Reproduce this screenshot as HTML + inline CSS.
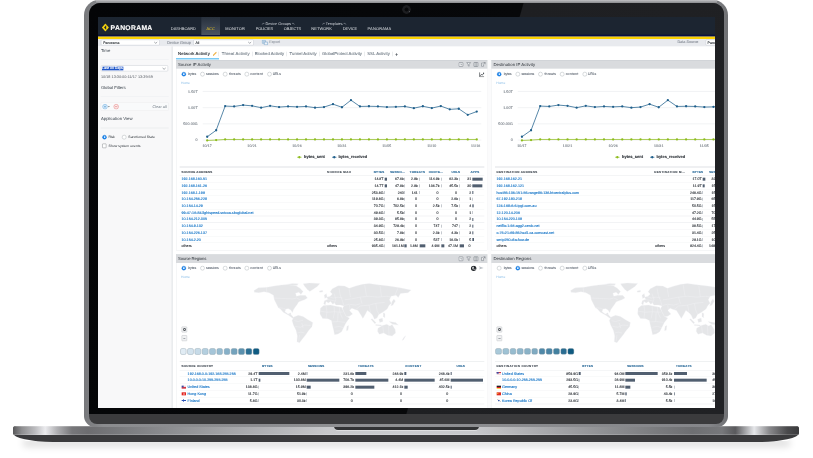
<!DOCTYPE html>
<html lang="en"><head><meta charset="utf-8"><title>Panorama ACC</title>
<style>
html,body{margin:0;padding:0;background:#fff;}
body{width:813px;height:458px;position:relative;overflow:hidden;font-family:"Liberation Sans",sans-serif;}
#stage div,#stage span.t,#stage svg{position:absolute;box-sizing:border-box;}
span.t{white-space:nowrap;display:block;text-rendering:geometricPrecision;-webkit-text-stroke:0.35px currentColor;}
#screen{overflow:hidden;background:#fff;}
.hl{background:#e7e9eb;}
.rad{border-radius:50%;border:1.35px solid #8d949c;background:#fff;}
.radon{border-radius:50%;background:#1a86f0;border:1.2px solid #1269c4;}
.radon i{position:absolute;left:50%;top:50%;width:4.5px;height:4.5px;margin:-2.25px 0 0 -2.25px;border-radius:50%;background:#fff;}
.bar{background:#515f70;}
.sel{background:#fff;border:1.35px solid #b4b9c1;border-radius:3px;}
.sw{border-radius:5.1px;border:1.65px solid #7d919e;}
.zb{border:1.5px solid #a3a7ac;background:#f1f2f3;border-radius:1.8px;}
</style></head><body><div id="stage">
<div style="left:24px;top:436px;width:765px;height:5px;border-radius:3px;box-shadow:0 4.5px 7px 1.5px rgba(0,0,0,0.125);"></div>
<div style="left:13.3px;top:425.8px;width:786px;height:16.4px;border-radius:3px 3px 40px 40px / 3px 3px 9px 9px;background:#3a3a3c;overflow:hidden;"><div style="left:0;top:0;width:786px;height:9.3px;background:linear-gradient(90deg,#58585a 0%,#8e8e90 1.1%,#bcbcbf 2.8%,#ebebee 4.1%,#b0b0b3 5.6%,#77777a 7.5%,#6d6d70 9.5%,#7a7b7e 14%,#a5a6a9 28%,#c6c7ca 40%,#cacbce 50%,#c6c7ca 59%,#a0a1a4 70%,#7a7b7e 82%,#6e6f72 86.5%,#77787b 90.2%,#5a5a5d 91.9%,#e6e7ea 94.3%,#8a8a8d 96.2%,#4a4a4c 98.5%,#3a3a3c 100%);"></div><div style="left:0;top:0;width:786px;height:1px;background:rgba(255,255,255,0.22);"></div><div style="left:0;top:8.3px;width:786px;height:1px;background:rgba(255,255,255,0.18);"></div></div>
<div style="left:333.6px;top:425.6px;width:145.6px;height:4.7px;border-radius:0 0 5px 5px;background:#323335;box-shadow:0 0.8px 0.6px rgba(255,255,255,0.55);"></div>
<div style="left:84.4px;top:-0.4px;width:644px;height:427px;border-radius:15px 15px 11px 11px;background:linear-gradient(90deg,#77787b 0%,#8b8c8f 3%,#8f9093 50%,#85868a 97%,#707174 100%);"></div>
<div style="left:88.7px;top:2.6px;width:635.6px;height:421.9px;border-radius:11.5px 11.5px 8px 8px;overflow:hidden;background:#3b3b3d;"><div style="left:0;top:0;width:635.6px;height:411.8px;background:linear-gradient(105.92deg,#040507 0%,#07080a 57.7%,#1e1f22 57.85%,#202124 100%);"></div></div>
<div style="left:96px;top:-0.4px;width:621px;height:3px;background:linear-gradient(180deg,#c3c3c6 0%,#a3a4a7 50%,#8b8c8f 100%);"></div>
<div style="left:401.5px;top:4.6px;width:9.8px;height:9.8px;border-radius:50%;background:radial-gradient(circle closest-side,#07080a 0,#090a0c 38%,#1d1e21 52%,#1c1d20 88%,#0d0e10 100%);"></div>
<div style="left:409.2px;top:11.3px;width:1.3px;height:1px;border-radius:50%;background:#5d5f63;transform:rotate(-35deg);"></div>
<div id="screen" style="left:98px;top:17px;width:617px;height:391px;">
<div id="ui" style="left:-98px;top:-17px;width:2439px;height:1374px;transform:scale(0.3333333);transform-origin:0 0;filter:saturate(1.001);">

<div style="left:294px;top:50.4px;width:1854px;height:54.3px;background:#1c2531;"></div>
<div style="left:294px;top:104.4px;width:1854px;height:5.7px;background:#0a1140;"></div>
<div style="left:294px;top:109.8px;width:1854px;height:7.5px;background:#fcd200;"></div>
<svg style="left:304.8px;top:69.6px;width:22.2px;height:25.2px;" viewBox="0 0 74 84"><path d="M37 2 L72 42 L37 82 L2 42 Z" fill="#f7d40c"/><path d="M24 42 L45 19 L45 65 Z" fill="#1c2531"/></svg>
<span class="t" style="left:331.8px;top:70.32px;font-size:20.34px;line-height:26.46px;color:#fff;font-weight:700;letter-spacing:0.96px;-webkit-text-stroke:0.39px #fff;">PANORAMA</span>
<div style="left:603.9px;top:50.4px;width:56.1px;height:54.3px;background:linear-gradient(180deg,#27303c 0%,#3a4350 55%,#4a5361 100%);"></div>
<span class="t" style="left:512.4px;top:77.94px;font-size:11.85px;line-height:15.42px;color:#dde1e6;letter-spacing:0.06px;-webkit-text-stroke:0;">DASHBOARD</span>
<span class="t" style="left:619.44px;top:77.94px;font-size:11.85px;line-height:15.42px;color:#f7cf1a;-webkit-text-stroke:0;">ACC</span>
<span class="t" style="left:675.9px;top:77.94px;font-size:11.85px;line-height:15.42px;color:#dde1e6;letter-spacing:0.48px;-webkit-text-stroke:0;">MONITOR</span>
<span class="t" style="left:767.1px;top:77.94px;font-size:11.85px;line-height:15.42px;color:#dde1e6;letter-spacing:-0.36px;-webkit-text-stroke:0;">POLICIES</span>
<span class="t" style="left:851.1px;top:77.94px;font-size:11.85px;line-height:15.42px;color:#dde1e6;letter-spacing:-0.39px;-webkit-text-stroke:0;">OBJECTS</span>
<span class="t" style="left:933.9px;top:77.94px;font-size:11.85px;line-height:15.42px;color:#dde1e6;letter-spacing:0.21px;-webkit-text-stroke:0;">NETWORK</span>
<span class="t" style="left:1028.4px;top:77.94px;font-size:11.85px;line-height:15.42px;color:#dde1e6;letter-spacing:-0.21px;-webkit-text-stroke:0;">DEVICE</span>
<span class="t" style="left:1102.8px;top:77.94px;font-size:11.85px;line-height:15.42px;color:#dde1e6;letter-spacing:0.48px;-webkit-text-stroke:0;">PANORAMA</span>
<span class="t" style="left:796.2px;top:63.93px;font-size:11.61px;line-height:15.09px;color:#d2d6dc;-webkit-text-stroke:0;">Device Groups</span>
<span class="t" style="left:977.4px;top:64.35px;font-size:11.07px;line-height:14.37px;color:#d2d6dc;-webkit-text-stroke:0;">Templates</span>
<svg style="left:774px;top:60px;width:270px;height:24px;" viewBox="0 0 90 8"><g fill="none" stroke="#b9bfc7" stroke-width="0.45"><path d="M4.2 4.6 L4.8 3.4 L6.4 3.4"/><path d="M34 3.4 L35.6 3.4 L36.3 4.6"/><path d="M64.6 4.6 L65.2 3.4 L66.8 3.4"/><path d="M85.6 3.4 L87.2 3.4 L87.9 4.6"/></g></svg>
<div style="left:294px;top:117.3px;width:1854px;height:21.3px;background:#e8eaee;"></div>
<div class="sel" style="left:303px;top:119.1px;width:176.1px;height:16.5px;"></div>
<span class="t" style="left:309.6px;top:122.34px;font-size:10.5px;line-height:13.65px;color:#30353b;">Panorama</span>
<div class="sel" style="left:580.2px;top:119.1px;width:180.6px;height:16.5px;"></div>
<span class="t" style="left:586.2px;top:122.34px;font-size:10.5px;line-height:13.65px;color:#30353b;">All</span>
<span class="t" style="left:500.7px;top:119.91px;font-size:11.79px;line-height:15.3px;color:#8c929b;">Device Group</span>
<svg style="left:460.8px;top:123.9px;width:12.6px;height:7.8px;" viewBox="0 0 42 26"><path d="M5 5 L21 20 L37 5" fill="none" stroke="#5a6068" stroke-width="5.5"/></svg>
<svg style="left:742.8px;top:123.9px;width:12.6px;height:7.8px;" viewBox="0 0 42 26"><path d="M5 5 L21 20 L37 5" fill="none" stroke="#5a6068" stroke-width="5.5"/></svg>
<svg style="left:784.8px;top:118.8px;width:19.8px;height:17.4px;" viewBox="0 0 66 58"><rect x="4" y="6" width="34" height="30" rx="3" fill="#dbe7f2" stroke="#6f9fc8" stroke-width="5"/><rect x="26" y="24" width="34" height="28" rx="3" fill="#eef3f8" stroke="#5d93c2" stroke-width="5"/><path d="M10 16 H30 M10 25 H22" stroke="#7aa6cc" stroke-width="4"/></svg>
<span class="t" style="left:807.6px;top:120.33px;font-size:11.22px;line-height:14.58px;color:#9aa0a9;">Export</span>
<span class="t" style="left:2032.2px;top:120.24px;font-size:11.34px;line-height:14.73px;color:#8c929b;">Data Source</span>
<div class="sel" style="left:2117.1px;top:119.1px;width:162.9px;height:16.5px;"></div>
<span class="t" style="left:2122.8px;top:122.34px;font-size:10.5px;line-height:13.65px;color:#30353b;">Panorama</span>
<div style="left:294px;top:138.6px;width:222.6px;height:1088.4px;background:#f8f8f9;"></div>
<div style="left:513.9px;top:138.6px;width:3.9px;height:1088.4px;background:linear-gradient(90deg,#eceef0,#dfe2e5);"></div>
<span class="t" style="left:302.7px;top:142.8px;font-size:12.9px;line-height:16.77px;color:#333c46;-webkit-text-stroke:0;">Time</span>
<div class="hl" style="left:301.5px;top:176.7px;width:204px;height:1.5px;"></div>
<div class="sel" style="left:302.7px;top:196.2px;width:201.6px;height:18.3px;"></div>
<div style="left:306px;top:199.5px;width:63.6px;height:11.7px;background:#1f56c8;"></div>
<span class="t" style="left:306.9px;top:199.08px;font-size:10.59px;line-height:13.77px;color:#fff;">Last 30 Days</span>
<svg style="left:485.7px;top:201.9px;width:12.6px;height:7.8px;" viewBox="0 0 42 26"><path d="M5 5 L21 20 L37 5" fill="none" stroke="#5a6068" stroke-width="5.5"/></svg>
<span class="t" style="left:302.7px;top:223.35px;font-size:11.46px;line-height:14.91px;color:#565b62;-webkit-text-stroke:0;">10/18 13:30:00-11/17 13:29:59</span>
<span class="t" style="left:302.7px;top:254.4px;font-size:12.9px;line-height:16.77px;color:#333c46;letter-spacing:-0.12px;-webkit-text-stroke:0;">Global Filters</span>
<div class="hl" style="left:301.5px;top:287.7px;width:204px;height:1.5px;"></div>
<div style="left:301.5px;top:307.2px;width:204px;height:24.9px;background:#f9fafb;border:1.2px solid #e6e8eb;border-radius:2.4px;"></div>
<svg style="left:305.7px;top:310.5px;width:54px;height:18px;" viewBox="0 0 180 60"><circle cx="30" cy="30" r="23" fill="#eaf4fd" stroke="#5aa4dc" stroke-width="5"/><path d="M18 30 H42 M30 18 V42" stroke="#3f90d0" stroke-width="5"/><path d="M62 26 L76 26 L69 36 Z" fill="#222"/><circle cx="142" cy="30" r="23" fill="#fdeeee" stroke="#e27b7b" stroke-width="5"/><path d="M130 30 H154" stroke="#d95b5b" stroke-width="5"/></svg>
<span class="t" style="left:457.8px;top:314.31px;font-size:11.37px;line-height:14.79px;color:#6b7680;-webkit-text-stroke:0;">Clear all</span>
<span class="t" style="left:302.7px;top:348px;font-size:12.9px;line-height:16.77px;color:#333c46;letter-spacing:0.03px;-webkit-text-stroke:0;">Application View</span>
<div class="hl" style="left:301.5px;top:383.1px;width:204px;height:1.5px;"></div>
<div class="radon" style="left:307.2px;top:404.7px;width:13.2px;height:13.2px;"><i></i></div>
<span class="t" style="left:325.5px;top:404.94px;font-size:10.5px;line-height:13.65px;color:#2c3238;letter-spacing:-0.54px;-webkit-text-stroke:0;">Risk</span>
<div class="rad" style="left:366.3px;top:404.7px;width:13.2px;height:13.2px;"></div>
<span class="t" style="left:384.9px;top:404.94px;font-size:10.5px;line-height:13.65px;color:#2c3238;letter-spacing:0px;-webkit-text-stroke:0;">Sanctioned State</span>
<div style="left:306.9px;top:431.4px;width:12.6px;height:12.9px;background:#fff;border:1.65px solid #50565c;border-radius:1.8px;"></div>
<span class="t" style="left:325.5px;top:431.04px;font-size:10.5px;line-height:13.65px;color:#2c3238;letter-spacing:-0.03px;-webkit-text-stroke:0;">Show system events</span>
<span class="t" style="left:534px;top:153.12px;font-size:12.75px;line-height:16.59px;color:#232a32;letter-spacing:0.36px;">Network Activity</span>
<svg style="left:636.6px;top:153.6px;width:15px;height:15px;" viewBox="0 0 46 46"><path d="M6 40 L9 29 L31 7 L39 15 L17 37 Z" fill="#f3b445"/><path d="M6 40 L9 29 L17 37 Z" fill="#d29a3a"/><path d="M31 7 L35 3 L43 11 L39 15 Z" fill="#e8c27a"/></svg>
<span class="t" style="left:665.1px;top:153.12px;font-size:12.75px;line-height:16.59px;color:#7a848e;letter-spacing:0.27px;">Threat Activity</span>
<span class="t" style="left:764.1px;top:153.12px;font-size:12.75px;line-height:16.59px;color:#7a848e;letter-spacing:0px;">Blocked Activity</span>
<span class="t" style="left:868.8px;top:153.12px;font-size:12.75px;line-height:16.59px;color:#7a848e;letter-spacing:-0.03px;">Tunnel Activity</span>
<span class="t" style="left:966px;top:153.12px;font-size:12.75px;line-height:16.59px;color:#7a848e;letter-spacing:-0.03px;">GlobalProtect Activity</span>
<span class="t" style="left:1101.6px;top:153.12px;font-size:12.75px;line-height:16.59px;color:#7a848e;letter-spacing:0.09px;">SSL Activity</span>
<div style="left:656.1px;top:154.8px;width:1.2px;height:13.8px;background:#c3c8cd;"></div>
<div style="left:756.3px;top:154.8px;width:1.2px;height:13.8px;background:#c3c8cd;"></div>
<div style="left:860.1px;top:154.8px;width:1.2px;height:13.8px;background:#c3c8cd;"></div>
<div style="left:957.6px;top:154.8px;width:1.2px;height:13.8px;background:#c3c8cd;"></div>
<div style="left:1092.9px;top:154.8px;width:1.2px;height:13.8px;background:#c3c8cd;"></div>
<div style="left:1176.9px;top:154.8px;width:1.2px;height:13.8px;background:#c3c8cd;"></div>
<span class="t" style="left:1186.08px;top:153.93px;font-size:13.8px;line-height:17.94px;color:#454c54;font-weight:700;">+</span>
<div style="left:527.7px;top:174.6px;width:129.3px;height:3.75px;background:#39b0f0;"></div>
<div style="left:657px;top:176.7px;width:1491px;height:1.65px;background:#e4e7ea;"></div>
<div style="left:527.7px;top:180px;width:935.7px;height:571.2px;border:1.35px solid #e1e4e7;background:#fff;"></div>
<div style="left:527.7px;top:180px;width:935.7px;height:26.1px;background:#d9dbde;border-top:1.5px solid #c3c6ca;"></div>
<span class="t" style="left:534px;top:184.8px;font-size:12.9px;line-height:16.77px;color:#2c3137;letter-spacing:-0.06px;-webkit-text-stroke:0;">Source IP Activity</span>
<svg style="left:1375.2px;top:184.8px;width:84px;height:16.8px;" viewBox="0 0 280 56"><g fill="#eef0f2" stroke="#626a72" stroke-width="4.6" stroke-linejoin="round"><rect x="6" y="8" width="40" height="40" rx="6"/><path d="M26 18 V30 H36" fill="none"/><path d="M84 9 H122 L108 27 V46 L98 40 V27 Z"/><rect x="156" y="8" width="40" height="40" rx="3"/><path d="M169 8 V48 M183 8 V48" fill="none"/><path d="M252 30 V46 H232 V14 H246" /><path d="M250 8 H268 V26 M268 8 L246 30" fill="none"/></g></svg>
<div class="radon" style="left:545.1px;top:216px;width:13.2px;height:13.2px;"><i></i></div>
<span class="t" style="left:564.9px;top:216.24px;font-size:10.5px;line-height:13.65px;color:#6f7780;letter-spacing:-0.39px;">bytes</span>
<div class="rad" style="left:600.9px;top:216px;width:13.2px;height:13.2px;"></div>
<span class="t" style="left:618px;top:216.24px;font-size:10.5px;line-height:13.65px;color:#6f7780;letter-spacing:-0.33px;">sessions</span>
<div class="rad" style="left:669px;top:216px;width:13.2px;height:13.2px;"></div>
<span class="t" style="left:687px;top:216.24px;font-size:10.5px;line-height:13.65px;color:#6f7780;letter-spacing:0.48px;">threats</span>
<div class="rad" style="left:733.8px;top:216px;width:13.2px;height:13.2px;"></div>
<span class="t" style="left:750.9px;top:216.24px;font-size:10.5px;line-height:13.65px;color:#6f7780;letter-spacing:0.51px;">content</span>
<div class="rad" style="left:801.9px;top:216px;width:13.2px;height:13.2px;"></div>
<span class="t" style="left:818.1px;top:216.24px;font-size:10.5px;line-height:13.65px;color:#6f7780;letter-spacing:-0.57px;">URLs</span>
<svg style="left:1436.7px;top:215.7px;width:16.8px;height:16.2px;" viewBox="0 0 56 54"><path d="M6 4 V48 H52" fill="none" stroke="#2d3238" stroke-width="6"/><path d="M12 38 L24 24 L32 32 L48 12" fill="none" stroke="#2d3238" stroke-width="7"/><circle cx="47" cy="12" r="6" fill="#2d3238"/></svg>
<span class="t" style="left:543px;top:242.31px;font-size:10.11px;line-height:13.17px;color:#86bbe6;-webkit-text-stroke:0;">Home</span>
<svg style="left:527.7px;top:205.8px;width:935.7px;height:300px;" viewBox="0 0 311.9 100"><path d="M26.7 22.8 H305.3" stroke="#e3e5e8" stroke-width="0.45"/><path d="M26.7 39 H305.3" stroke="#e3e5e8" stroke-width="0.45"/><path d="M26.7 55.2 H305.3" stroke="#e3e5e8" stroke-width="0.45"/><path d="M26.7 71.4 H305.3" stroke="#e3e5e8" stroke-width="0.45"/><polyline points="31.2,71.8 40.18,71.4 49.17,70.8 58.16,70.8 67.14,70.8 76.12,70.8 85.11,70.8 94.09,70.8 103.08,70.8 112.06,70.8 121.05,70.8 130.03,70.8 139.02,70.8 148,70.8 156.99,70.8 165.97,70.8 174.96,70.8 183.95,70.8 192.93,70.8 201.91,70.8 210.9,70.8 219.88,70.8 228.87,70.8 237.85,70.8 246.84,70.8 255.83,70.8 264.81,70.8 273.79,70.8 282.78,70.8 291.76,70.8 300.75,70.8" fill="none" stroke="#8dbb1c" stroke-width="0.75" stroke-linejoin="round"/><circle cx="31.2" cy="71.8" r="1.15" fill="#8dbb1c"/><circle cx="40.18" cy="71.4" r="1.15" fill="#8dbb1c"/><circle cx="49.17" cy="70.8" r="1.15" fill="#8dbb1c"/><circle cx="58.16" cy="70.8" r="1.15" fill="#8dbb1c"/><circle cx="67.14" cy="70.8" r="1.15" fill="#8dbb1c"/><circle cx="76.12" cy="70.8" r="1.15" fill="#8dbb1c"/><circle cx="85.11" cy="70.8" r="1.15" fill="#8dbb1c"/><circle cx="94.09" cy="70.8" r="1.15" fill="#8dbb1c"/><circle cx="103.08" cy="70.8" r="1.15" fill="#8dbb1c"/><circle cx="112.06" cy="70.8" r="1.15" fill="#8dbb1c"/><circle cx="121.05" cy="70.8" r="1.15" fill="#8dbb1c"/><circle cx="130.03" cy="70.8" r="1.15" fill="#8dbb1c"/><circle cx="139.02" cy="70.8" r="1.15" fill="#8dbb1c"/><circle cx="148" cy="70.8" r="1.15" fill="#8dbb1c"/><circle cx="156.99" cy="70.8" r="1.15" fill="#8dbb1c"/><circle cx="165.97" cy="70.8" r="1.15" fill="#8dbb1c"/><circle cx="174.96" cy="70.8" r="1.15" fill="#8dbb1c"/><circle cx="183.95" cy="70.8" r="1.15" fill="#8dbb1c"/><circle cx="192.93" cy="70.8" r="1.15" fill="#8dbb1c"/><circle cx="201.91" cy="70.8" r="1.15" fill="#8dbb1c"/><circle cx="210.9" cy="70.8" r="1.15" fill="#8dbb1c"/><circle cx="219.88" cy="70.8" r="1.15" fill="#8dbb1c"/><circle cx="228.87" cy="70.8" r="1.15" fill="#8dbb1c"/><circle cx="237.85" cy="70.8" r="1.15" fill="#8dbb1c"/><circle cx="246.84" cy="70.8" r="1.15" fill="#8dbb1c"/><circle cx="255.83" cy="70.8" r="1.15" fill="#8dbb1c"/><circle cx="264.81" cy="70.8" r="1.15" fill="#8dbb1c"/><circle cx="273.79" cy="70.8" r="1.15" fill="#8dbb1c"/><circle cx="282.78" cy="70.8" r="1.15" fill="#8dbb1c"/><circle cx="291.76" cy="70.8" r="1.15" fill="#8dbb1c"/><circle cx="300.75" cy="70.8" r="1.15" fill="#8dbb1c"/><polyline points="31.2,68.1 40.18,61.6 49.17,37.4 58.16,37.8 67.14,36.4 76.12,37.2 85.11,39 94.09,37.2 103.08,38.4 112.06,37.8 121.05,38.2 130.03,37.8 139.02,39 148,38.4 156.99,35.5 165.97,38.6 174.96,31.5 183.95,37.8 192.93,37.6 201.91,37.8 210.9,38.4 219.88,38.2 228.87,37.8 237.85,39.5 246.84,37.6 255.83,39.4 264.81,37.4 273.79,40.7 282.78,40.1 291.76,46.2 300.75,42.9" fill="none" stroke="#1f5f8b" stroke-width="0.75" stroke-linejoin="round"/><circle cx="31.2" cy="68.1" r="1.15" fill="#1f5f8b"/><circle cx="40.18" cy="61.6" r="1.15" fill="#1f5f8b"/><circle cx="49.17" cy="37.4" r="1.15" fill="#1f5f8b"/><circle cx="58.16" cy="37.8" r="1.15" fill="#1f5f8b"/><circle cx="67.14" cy="36.4" r="1.15" fill="#1f5f8b"/><circle cx="76.12" cy="37.2" r="1.15" fill="#1f5f8b"/><circle cx="85.11" cy="39" r="1.15" fill="#1f5f8b"/><circle cx="94.09" cy="37.2" r="1.15" fill="#1f5f8b"/><circle cx="103.08" cy="38.4" r="1.15" fill="#1f5f8b"/><circle cx="112.06" cy="37.8" r="1.15" fill="#1f5f8b"/><circle cx="121.05" cy="38.2" r="1.15" fill="#1f5f8b"/><circle cx="130.03" cy="37.8" r="1.15" fill="#1f5f8b"/><circle cx="139.02" cy="39" r="1.15" fill="#1f5f8b"/><circle cx="148" cy="38.4" r="1.15" fill="#1f5f8b"/><circle cx="156.99" cy="35.5" r="1.15" fill="#1f5f8b"/><circle cx="165.97" cy="38.6" r="1.15" fill="#1f5f8b"/><circle cx="174.96" cy="31.5" r="1.15" fill="#1f5f8b"/><circle cx="183.95" cy="37.8" r="1.15" fill="#1f5f8b"/><circle cx="192.93" cy="37.6" r="1.15" fill="#1f5f8b"/><circle cx="201.91" cy="37.8" r="1.15" fill="#1f5f8b"/><circle cx="210.9" cy="38.4" r="1.15" fill="#1f5f8b"/><circle cx="219.88" cy="38.2" r="1.15" fill="#1f5f8b"/><circle cx="228.87" cy="37.8" r="1.15" fill="#1f5f8b"/><circle cx="237.85" cy="39.5" r="1.15" fill="#1f5f8b"/><circle cx="246.84" cy="37.6" r="1.15" fill="#1f5f8b"/><circle cx="255.83" cy="39.4" r="1.15" fill="#1f5f8b"/><circle cx="264.81" cy="37.4" r="1.15" fill="#1f5f8b"/><circle cx="273.79" cy="40.7" r="1.15" fill="#1f5f8b"/><circle cx="282.78" cy="40.1" r="1.15" fill="#1f5f8b"/><circle cx="291.76" cy="46.2" r="1.15" fill="#1f5f8b"/><circle cx="300.75" cy="42.9" r="1.15" fill="#1f5f8b"/><path d="M121.15 88.6 h4.4" stroke="#8dbb1c" stroke-width="0.7"/><circle cx="123.35" cy="88.6" r="1.15" fill="#8dbb1c"/><path d="M156.05 88.6 h4.4" stroke="#1f5f8b" stroke-width="0.7"/><circle cx="158.25" cy="88.6" r="1.15" fill="#1f5f8b"/></svg>
<span class="t" style="left:564.12px;top:268.77px;font-size:10.65px;line-height:13.86px;color:#7b828a;letter-spacing:0.36px;">1.50T</span>
<span class="t" style="left:564.12px;top:317.37px;font-size:10.65px;line-height:13.86px;color:#7b828a;letter-spacing:0.36px;">1.00T</span>
<span class="t" style="left:549.78px;top:365.97px;font-size:10.65px;line-height:13.86px;color:#7b828a;letter-spacing:0.36px;">500.00G</span>
<span class="t" style="left:586.89px;top:415.17px;font-size:10.65px;line-height:13.86px;color:#7b828a;letter-spacing:0.36px;">0</span>
<span class="t" style="left:607.26px;top:431.07px;font-size:10.65px;line-height:13.86px;color:#7b828a;letter-spacing:0.36px;">10/17</span>
<span class="t" style="left:742.02px;top:431.07px;font-size:10.65px;line-height:13.86px;color:#7b828a;letter-spacing:0.36px;">10/21</span>
<span class="t" style="left:876.81px;top:431.07px;font-size:10.65px;line-height:13.86px;color:#7b828a;letter-spacing:0.36px;">10/26</span>
<span class="t" style="left:1011.57px;top:431.07px;font-size:10.65px;line-height:13.86px;color:#7b828a;letter-spacing:0.36px;">10/31</span>
<span class="t" style="left:1146.75px;top:431.07px;font-size:10.65px;line-height:13.86px;color:#7b828a;letter-spacing:0.36px;">11/05</span>
<span class="t" style="left:1281.51px;top:431.07px;font-size:10.65px;line-height:13.86px;color:#7b828a;letter-spacing:0.36px;">11/10</span>
<span class="t" style="left:1413.3px;top:431.07px;font-size:10.65px;line-height:13.86px;color:#7b828a;letter-spacing:0.36px;">11/16</span>
<span class="t" style="left:911.85px;top:464.13px;font-size:12.06px;line-height:15.69px;color:#2f343a;font-weight:700;">bytes_sent</span>
<span class="t" style="left:1015.35px;top:464.25px;font-size:11.88px;line-height:15.42px;color:#2f343a;font-weight:700;">bytes_received</span>
<div style="left:539.4px;top:500.4px;width:913.2px;height:1.35px;background:#cfd3d7;"></div>
<div style="left:539.4px;top:525.6px;width:913.2px;height:1.35px;background:#dfe2e5;"></div>
<span class="t" style="left:544.5px;top:509.94px;font-size:8.85px;line-height:11.52px;color:#454d56;font-weight:700;letter-spacing:0.66px;">SOURCE ADDRESS</span>
<span class="t" style="left:981px;top:509.94px;font-size:8.85px;line-height:11.52px;color:#454d56;font-weight:700;letter-spacing:1.23px;">SOURCE MAC</span>
<span class="t" style="left:1121.49px;top:509.94px;font-size:8.85px;line-height:11.52px;color:#2a6a99;font-weight:700;letter-spacing:0.39px;">BYTES</span>
<span class="t" style="left:1170.45px;top:509.94px;font-size:8.85px;line-height:11.52px;color:#2a6a99;font-weight:700;letter-spacing:0.45px;">SESSIO...</span>
<span class="t" style="left:1228.74px;top:509.94px;font-size:8.85px;line-height:11.52px;color:#2a6a99;font-weight:700;letter-spacing:0.84px;">THREATS</span>
<span class="t" style="left:1285.95px;top:509.94px;font-size:8.85px;line-height:11.52px;color:#2a6a99;font-weight:700;letter-spacing:0.75px;">CONTE...</span>
<span class="t" style="left:1354.86px;top:509.94px;font-size:8.85px;line-height:11.52px;color:#2a6a99;font-weight:700;letter-spacing:0.36px;">URLS</span>
<span class="t" style="left:1411.32px;top:509.94px;font-size:8.85px;line-height:11.52px;color:#2a6a99;font-weight:700;letter-spacing:0.72px;">APPS</span>
<span class="t" style="left:544.5px;top:530.88px;font-size:11.01px;line-height:14.31px;color:#1273c6;">192.168.160.51</span>
<span class="t" style="left:1123.26px;top:531.87px;font-size:10.65px;line-height:13.86px;color:#2b3036;">14.8T</span>
<div class="bar" style="left:1153.5px;top:533.1px;width:7.5px;height:9px;"></div>
<span class="t" style="left:1185.36px;top:531.87px;font-size:10.65px;line-height:13.86px;color:#2b3036;">67.6k</span>
<div class="bar" style="left:1213.2px;top:533.1px;width:1.2px;height:9px;"></div>
<span class="t" style="left:1233.27px;top:531.87px;font-size:10.65px;line-height:13.86px;color:#2b3036;">2.9k</span>
<div class="bar" style="left:1258.8px;top:533.1px;width:1.2px;height:9px;"></div>
<span class="t" style="left:1287.3px;top:531.87px;font-size:10.65px;line-height:13.86px;color:#2b3036;">114.9k</span>
<div class="bar" style="left:1323.6px;top:533.1px;width:0.9px;height:9px;"></div>
<span class="t" style="left:1347.96px;top:531.87px;font-size:10.65px;line-height:13.86px;color:#2b3036;">62.3k</span>
<div class="bar" style="left:1378.5px;top:533.1px;width:0.9px;height:9px;"></div>
<span class="t" style="left:1402.05px;top:531.87px;font-size:10.65px;line-height:13.86px;color:#2b3036;">31</span>
<div class="bar" style="left:1416.9px;top:533.1px;width:30.9px;height:9px;"></div>
<span class="t" style="left:544.5px;top:550.95px;font-size:11.01px;line-height:14.31px;color:#1273c6;">192.168.161.26</span>
<span class="t" style="left:1123.26px;top:551.94px;font-size:10.65px;line-height:13.86px;color:#2b3036;">14.7T</span>
<div class="bar" style="left:1153.5px;top:553.17px;width:7.2px;height:9px;"></div>
<span class="t" style="left:1185.36px;top:551.94px;font-size:10.65px;line-height:13.86px;color:#2b3036;">47.8k</span>
<div class="bar" style="left:1213.2px;top:553.17px;width:1.2px;height:9px;"></div>
<span class="t" style="left:1233.27px;top:551.94px;font-size:10.65px;line-height:13.86px;color:#2b3036;">2.9k</span>
<div class="bar" style="left:1258.8px;top:553.17px;width:1.2px;height:9px;"></div>
<span class="t" style="left:1286.52px;top:551.94px;font-size:10.65px;line-height:13.86px;color:#2b3036;">136.7k</span>
<div class="bar" style="left:1323.6px;top:553.17px;width:0.9px;height:9px;"></div>
<span class="t" style="left:1347.96px;top:551.94px;font-size:10.65px;line-height:13.86px;color:#2b3036;">45.5k</span>
<div class="bar" style="left:1378.5px;top:553.17px;width:0.9px;height:9px;"></div>
<span class="t" style="left:1402.05px;top:551.94px;font-size:10.65px;line-height:13.86px;color:#2b3036;">30</span>
<div class="bar" style="left:1416.9px;top:553.17px;width:29.7px;height:9px;"></div>
<span class="t" style="left:544.5px;top:571.02px;font-size:11.01px;line-height:14.31px;color:#1273c6;">192.168.1.199</span>
<span class="t" style="left:1115.58px;top:572.01px;font-size:10.65px;line-height:13.86px;color:#2b3036;">253.8G</span>
<div class="bar" style="left:1153.5px;top:573.24px;width:0.9px;height:9px;"></div>
<span class="t" style="left:1193.64px;top:572.01px;font-size:10.65px;line-height:13.86px;color:#2b3036;">240</span>
<div class="bar" style="left:1213.2px;top:573.24px;width:0.9px;height:9px;"></div>
<span class="t" style="left:1235.64px;top:572.01px;font-size:10.65px;line-height:13.86px;color:#2b3036;">141</span>
<div class="bar" style="left:1258.8px;top:573.24px;width:0.9px;height:9px;"></div>
<span class="t" style="left:1309.89px;top:572.01px;font-size:10.65px;line-height:13.86px;color:#2b3036;">0</span>
<span class="t" style="left:1365.39px;top:572.01px;font-size:10.65px;line-height:13.86px;color:#2b3036;">0</span>
<span class="t" style="left:1407.99px;top:572.01px;font-size:10.65px;line-height:13.86px;color:#2b3036;">2</span>
<div class="bar" style="left:1416.9px;top:573.24px;width:2.7px;height:9px;"></div>
<span class="t" style="left:544.5px;top:591.09px;font-size:11.01px;line-height:14.31px;color:#1273c6;">10.154.256.228</span>
<span class="t" style="left:1116.36px;top:592.08px;font-size:10.65px;line-height:13.86px;color:#2b3036;">119.8G</span>
<div class="bar" style="left:1153.5px;top:593.31px;width:0.9px;height:9px;"></div>
<span class="t" style="left:1191.27px;top:592.08px;font-size:10.65px;line-height:13.86px;color:#2b3036;">6.8k</span>
<div class="bar" style="left:1213.2px;top:593.31px;width:0.9px;height:9px;"></div>
<span class="t" style="left:1244.79px;top:592.08px;font-size:10.65px;line-height:13.86px;color:#2b3036;">0</span>
<span class="t" style="left:1309.89px;top:592.08px;font-size:10.65px;line-height:13.86px;color:#2b3036;">0</span>
<span class="t" style="left:1353.87px;top:592.08px;font-size:10.65px;line-height:13.86px;color:#2b3036;">2.6k</span>
<div class="bar" style="left:1378.5px;top:593.31px;width:0.9px;height:9px;"></div>
<span class="t" style="left:1407.99px;top:592.08px;font-size:10.65px;line-height:13.86px;color:#2b3036;">1</span>
<div class="bar" style="left:1416.9px;top:593.31px;width:1.5px;height:9px;"></div>
<span class="t" style="left:544.5px;top:611.16px;font-size:11.01px;line-height:14.31px;color:#1273c6;">10.154.14.29</span>
<span class="t" style="left:1121.49px;top:612.15px;font-size:10.65px;line-height:13.86px;color:#2b3036;">70.7G</span>
<div class="bar" style="left:1153.5px;top:613.38px;width:0.9px;height:9px;"></div>
<span class="t" style="left:1179.42px;top:612.15px;font-size:10.65px;line-height:13.86px;color:#2b3036;">702.5k</span>
<div class="bar" style="left:1213.2px;top:613.38px;width:1.2px;height:9px;"></div>
<span class="t" style="left:1244.79px;top:612.15px;font-size:10.65px;line-height:13.86px;color:#2b3036;">0</span>
<span class="t" style="left:1298.37px;top:612.15px;font-size:10.65px;line-height:13.86px;color:#2b3036;">2.5k</span>
<div class="bar" style="left:1323.6px;top:613.38px;width:0.9px;height:9px;"></div>
<span class="t" style="left:1353.87px;top:612.15px;font-size:10.65px;line-height:13.86px;color:#2b3036;">7.5k</span>
<div class="bar" style="left:1378.5px;top:613.38px;width:0.9px;height:9px;"></div>
<span class="t" style="left:1407.99px;top:612.15px;font-size:10.65px;line-height:13.86px;color:#2b3036;">4</span>
<div class="bar" style="left:1416.9px;top:613.38px;width:4.5px;height:9px;"></div>
<span class="t" style="left:544.5px;top:631.23px;font-size:11.01px;line-height:14.31px;color:#1273c6;">99-47-16-84.lightspeed.sntcca.sbcglobal.net</span>
<span class="t" style="left:1121.49px;top:632.22px;font-size:10.65px;line-height:13.86px;color:#2b3036;">49.6G</span>
<div class="bar" style="left:1153.5px;top:633.45px;width:0.9px;height:9px;"></div>
<span class="t" style="left:1191.27px;top:632.22px;font-size:10.65px;line-height:13.86px;color:#2b3036;">5.5k</span>
<div class="bar" style="left:1213.2px;top:633.45px;width:0.9px;height:9px;"></div>
<span class="t" style="left:1244.79px;top:632.22px;font-size:10.65px;line-height:13.86px;color:#2b3036;">0</span>
<span class="t" style="left:1309.89px;top:632.22px;font-size:10.65px;line-height:13.86px;color:#2b3036;">0</span>
<span class="t" style="left:1365.39px;top:632.22px;font-size:10.65px;line-height:13.86px;color:#2b3036;">0</span>
<span class="t" style="left:1407.99px;top:632.22px;font-size:10.65px;line-height:13.86px;color:#2b3036;">1</span>
<div class="bar" style="left:1416.9px;top:633.45px;width:1.5px;height:9px;"></div>
<span class="t" style="left:544.5px;top:651.3px;font-size:11.01px;line-height:14.31px;color:#1273c6;">10.154.212.305</span>
<span class="t" style="left:1121.49px;top:652.29px;font-size:10.65px;line-height:13.86px;color:#2b3036;">39.3G</span>
<div class="bar" style="left:1153.5px;top:653.52px;width:0.9px;height:9px;"></div>
<span class="t" style="left:1185.36px;top:652.29px;font-size:10.65px;line-height:13.86px;color:#2b3036;">85.8k</span>
<div class="bar" style="left:1213.2px;top:653.52px;width:0.9px;height:9px;"></div>
<span class="t" style="left:1244.79px;top:652.29px;font-size:10.65px;line-height:13.86px;color:#2b3036;">0</span>
<span class="t" style="left:1309.89px;top:652.29px;font-size:10.65px;line-height:13.86px;color:#2b3036;">0</span>
<span class="t" style="left:1365.39px;top:652.29px;font-size:10.65px;line-height:13.86px;color:#2b3036;">0</span>
<span class="t" style="left:1407.99px;top:652.29px;font-size:10.65px;line-height:13.86px;color:#2b3036;">2</span>
<div class="bar" style="left:1416.9px;top:653.52px;width:2.7px;height:9px;"></div>
<span class="t" style="left:544.5px;top:671.37px;font-size:11.01px;line-height:14.31px;color:#1273c6;">10.154.9.132</span>
<span class="t" style="left:1121.49px;top:672.36px;font-size:10.65px;line-height:13.86px;color:#2b3036;">34.9G</span>
<div class="bar" style="left:1153.5px;top:673.59px;width:0.9px;height:9px;"></div>
<span class="t" style="left:1179.42px;top:672.36px;font-size:10.65px;line-height:13.86px;color:#2b3036;">729.4k</span>
<div class="bar" style="left:1213.2px;top:673.59px;width:1.2px;height:9px;"></div>
<span class="t" style="left:1244.79px;top:672.36px;font-size:10.65px;line-height:13.86px;color:#2b3036;">0</span>
<span class="t" style="left:1300.74px;top:672.36px;font-size:10.65px;line-height:13.86px;color:#2b3036;">747</span>
<div class="bar" style="left:1323.6px;top:673.59px;width:0.9px;height:9px;"></div>
<span class="t" style="left:1356.24px;top:672.36px;font-size:10.65px;line-height:13.86px;color:#2b3036;">747</span>
<div class="bar" style="left:1378.5px;top:673.59px;width:0.9px;height:9px;"></div>
<span class="t" style="left:1407.99px;top:672.36px;font-size:10.65px;line-height:13.86px;color:#2b3036;">2</span>
<div class="bar" style="left:1416.9px;top:673.59px;width:2.7px;height:9px;"></div>
<span class="t" style="left:544.5px;top:691.44px;font-size:11.01px;line-height:14.31px;color:#1273c6;">10.154.226.137</span>
<span class="t" style="left:1121.49px;top:692.43px;font-size:10.65px;line-height:13.86px;color:#2b3036;">30.5G</span>
<div class="bar" style="left:1153.5px;top:693.66px;width:0.9px;height:9px;"></div>
<span class="t" style="left:1191.27px;top:692.43px;font-size:10.65px;line-height:13.86px;color:#2b3036;">7.8k</span>
<div class="bar" style="left:1213.2px;top:693.66px;width:0.9px;height:9px;"></div>
<span class="t" style="left:1244.79px;top:692.43px;font-size:10.65px;line-height:13.86px;color:#2b3036;">0</span>
<span class="t" style="left:1298.37px;top:692.43px;font-size:10.65px;line-height:13.86px;color:#2b3036;">2.3k</span>
<div class="bar" style="left:1323.6px;top:693.66px;width:0.9px;height:9px;"></div>
<span class="t" style="left:1353.87px;top:692.43px;font-size:10.65px;line-height:13.86px;color:#2b3036;">4.3k</span>
<div class="bar" style="left:1378.5px;top:693.66px;width:0.9px;height:9px;"></div>
<span class="t" style="left:1407.99px;top:692.43px;font-size:10.65px;line-height:13.86px;color:#2b3036;">3</span>
<div class="bar" style="left:1416.9px;top:693.66px;width:3.6px;height:9px;"></div>
<span class="t" style="left:544.5px;top:711.51px;font-size:11.01px;line-height:14.31px;color:#1273c6;">10.154.2.20</span>
<span class="t" style="left:1121.49px;top:712.5px;font-size:10.65px;line-height:13.86px;color:#2b3036;">25.8G</span>
<div class="bar" style="left:1153.5px;top:713.73px;width:0.9px;height:9px;"></div>
<span class="t" style="left:1185.36px;top:712.5px;font-size:10.65px;line-height:13.86px;color:#2b3036;">26.9k</span>
<div class="bar" style="left:1213.2px;top:713.73px;width:0.9px;height:9px;"></div>
<span class="t" style="left:1244.79px;top:712.5px;font-size:10.65px;line-height:13.86px;color:#2b3036;">0</span>
<span class="t" style="left:1300.74px;top:712.5px;font-size:10.65px;line-height:13.86px;color:#2b3036;">537</span>
<div class="bar" style="left:1323.6px;top:713.73px;width:0.9px;height:9px;"></div>
<span class="t" style="left:1347.96px;top:712.5px;font-size:10.65px;line-height:13.86px;color:#2b3036;">16.0k</span>
<div class="bar" style="left:1378.5px;top:713.73px;width:0.9px;height:9px;"></div>
<span class="t" style="left:1407.99px;top:712.5px;font-size:10.65px;line-height:13.86px;color:#2b3036;">5</span>
<div class="bar" style="left:1416.9px;top:713.73px;width:5.4px;height:9px;"></div>
<span class="t" style="left:544.5px;top:730.38px;font-size:11.01px;line-height:14.31px;color:#2b3036;">others</span>
<span class="t" style="left:981px;top:730.38px;font-size:11.01px;line-height:14.31px;color:#2b3036;">others</span>
<span class="t" style="left:1115.58px;top:731.37px;font-size:10.65px;line-height:13.86px;color:#2b3036;">935.4G</span>
<div class="bar" style="left:1153.5px;top:732.6px;width:0.9px;height:9px;"></div>
<span class="t" style="left:1175.88px;top:731.37px;font-size:10.65px;line-height:13.86px;color:#2b3036;">161.1M</span>
<div class="bar" style="left:1213.2px;top:732.6px;width:6.6px;height:9px;"></div>
<span class="t" style="left:1229.73px;top:731.37px;font-size:10.65px;line-height:13.86px;color:#2b3036;">1.8M</span>
<div class="bar" style="left:1258.8px;top:732.6px;width:17.7px;height:9px;"></div>
<span class="t" style="left:1294.83px;top:731.37px;font-size:10.65px;line-height:13.86px;color:#2b3036;">4.9M</span>
<div class="bar" style="left:1323.6px;top:732.6px;width:9px;height:9px;"></div>
<span class="t" style="left:1344.39px;top:731.37px;font-size:10.65px;line-height:13.86px;color:#2b3036;">47.1M</span>
<div class="bar" style="left:1378.5px;top:732.6px;width:13.2px;height:9px;"></div>
<span class="t" style="left:1405.29px;top:731.37px;font-size:10.65px;line-height:13.86px;color:#2b3036;">0</span>
<div style="left:539.4px;top:547.02px;width:913.2px;height:1.2px;background:#eceef0;"></div>
<div style="left:539.4px;top:567.09px;width:913.2px;height:1.2px;background:#eceef0;"></div>
<div style="left:539.4px;top:587.16px;width:913.2px;height:1.2px;background:#eceef0;"></div>
<div style="left:539.4px;top:607.23px;width:913.2px;height:1.2px;background:#eceef0;"></div>
<div style="left:539.4px;top:627.3px;width:913.2px;height:1.2px;background:#eceef0;"></div>
<div style="left:539.4px;top:647.4px;width:913.2px;height:1.2px;background:#eceef0;"></div>
<div style="left:539.4px;top:667.47px;width:913.2px;height:1.2px;background:#eceef0;"></div>
<div style="left:539.4px;top:687.54px;width:913.2px;height:1.2px;background:#eceef0;"></div>
<div style="left:539.4px;top:707.61px;width:913.2px;height:1.2px;background:#eceef0;"></div>
<div style="left:539.4px;top:727.68px;width:913.2px;height:1.2px;background:#eceef0;"></div>
<div style="left:527.7px;top:763.5px;width:935.7px;height:496.5px;border:1.35px solid #e1e4e7;background:#fff;"></div>
<div style="left:527.7px;top:763.5px;width:935.7px;height:25.5px;background:#d9dbde;border-top:1.5px solid #c3c6ca;"></div>
<span class="t" style="left:534px;top:768px;font-size:12.9px;line-height:16.77px;color:#2c3137;letter-spacing:-0.51px;-webkit-text-stroke:0;">Source Regions</span>
<svg style="left:1375.2px;top:768px;width:84px;height:16.8px;" viewBox="0 0 280 56"><g fill="#eef0f2" stroke="#626a72" stroke-width="4.6" stroke-linejoin="round"><rect x="6" y="8" width="40" height="40" rx="6"/><path d="M26 18 V30 H36" fill="none"/><path d="M84 9 H122 L108 27 V46 L98 40 V27 Z"/><rect x="156" y="8" width="40" height="40" rx="3"/><path d="M169 8 V48 M183 8 V48" fill="none"/><path d="M252 30 V46 H232 V14 H246" /><path d="M250 8 H268 V26 M268 8 L246 30" fill="none"/></g></svg>
<div class="radon" style="left:545.1px;top:797.7px;width:13.2px;height:13.2px;"><i></i></div>
<span class="t" style="left:564.9px;top:797.94px;font-size:10.5px;line-height:13.65px;color:#6f7780;letter-spacing:-0.39px;">bytes</span>
<div class="rad" style="left:600.9px;top:797.7px;width:13.2px;height:13.2px;"></div>
<span class="t" style="left:618px;top:797.94px;font-size:10.5px;line-height:13.65px;color:#6f7780;letter-spacing:-0.33px;">sessions</span>
<div class="rad" style="left:669px;top:797.7px;width:13.2px;height:13.2px;"></div>
<span class="t" style="left:687px;top:797.94px;font-size:10.5px;line-height:13.65px;color:#6f7780;letter-spacing:0.48px;">threats</span>
<div class="rad" style="left:733.8px;top:797.7px;width:13.2px;height:13.2px;"></div>
<span class="t" style="left:750.9px;top:797.94px;font-size:10.5px;line-height:13.65px;color:#6f7780;letter-spacing:0.51px;">content</span>
<div class="rad" style="left:801.9px;top:797.7px;width:13.2px;height:13.2px;"></div>
<span class="t" style="left:818.1px;top:797.94px;font-size:10.5px;line-height:13.65px;color:#6f7780;letter-spacing:-0.57px;">URLs</span>
<svg style="left:1412.4px;top:796.2px;width:42px;height:18px;" viewBox="0 0 140 60"><circle cx="30" cy="30" r="27" fill="#22262b"/><path d="M18 16 C28 10 36 16 30 24 C24 30 34 34 28 44 C20 40 12 30 18 16 Z M40 34 C48 30 52 38 44 48 C38 46 36 40 40 34 Z" fill="#f1f2f3"/><path d="M82 10 L130 26 L82 42 L92 26 Z" fill="#bcc1c7"/></svg>
<span class="t" style="left:543px;top:826.41px;font-size:10.11px;line-height:13.17px;color:#86bbe6;-webkit-text-stroke:0;">Home</span>
<svg style="left:527.7px;top:840px;width:960px;height:204px;" viewBox="0 0 320 68"><g fill="#e5e6e8" stroke="#f6f6f7" stroke-width="0.3"><polygon points="77.96,10.5 82.38,7.84 91.24,7.18 97.88,6.07 105.63,4.96 113.38,4.3 120.02,5.63 124,8.28 127.1,11.6 124.89,14.48 122.9,12.27 119.58,13.15 120.46,16.25 124.45,15.37 129.32,15.37 131.53,18.02 128.43,19.8 124.89,21.12 122.68,22.01 121.35,24.22 119.13,27.32 117.36,29.98 116.48,32.64 114.71,29.98 112.49,28.65 109.84,29.09 108.95,31.75 112.05,33.96 114.71,32.64 115.15,34.85 117.36,37.06 119.58,38.39 116.92,38.39 112.49,35.29 107.18,32.19 104.08,28.65 102.31,27.77 100.54,24.22 98.32,19.8 97.44,15.37 93.01,12.71 88.14,11.83 82.83,12.71 78.4,12.27"/><polygon points="127.1,3.86 133.3,2.97 143.93,3.41 141.27,6.51 136.84,9.61 133.74,11.6 131.09,9.17 128.43,6.07"/><polygon points="111.16,4.3 116.7,3.41 122.23,3.86 121.35,5.18 115.59,5.41"/><polygon points="117.8,37.06 122.23,35.29 127.1,36.62 131.97,39.72 136.84,42.38 135.96,46.8 132.86,50.35 129.76,54.77 126.22,59.2 123.56,62.74 120.9,61.86 121.35,56.1 120.02,50.35 117.36,45.03 116.03,40.61"/><polygon points="147.69,23.78 148.36,20.68 151.9,19.35 150.57,17.14 154.11,16.25 156.33,14.04 154.11,11.83 156.33,8.73 162.08,5.63 168.72,6.07 173.15,8.28 179.79,6.07 186.43,4.3 193.08,3.41 201.93,4.74 213,6.07 224.07,7.84 235.14,10.05 232.04,12.71 224.51,13.6 222.3,17.58 220.09,15.37 215.21,16.25 213.44,19.8 215.21,23.34 213,25.55 211.23,29.09 206.8,32.19 202.82,34.41 201.05,37.95 198.39,39.28 196.62,35.29 194.4,32.64 191.31,30.42 189.09,34.85 186.88,38.39 184.22,33.96 182.01,30.42 178.91,29.54 175.81,28.21 173.59,30.42 176.69,33.96 173.59,36.18 170.05,37.06 167.84,32.64 166.51,28.21 167.84,25.99 164.3,25.11 159.87,25.11 158.54,22.89 156.77,24.22 154.55,21.57 152.34,22.89 150.13,21.57 149.24,25.11"/><polygon points="144.37,28.21 147.47,25.55 154.55,25.11 158.98,25.99 165.62,27.32 167.84,31.75 170.05,36.18 173.59,37.95 170.05,42.82 167.84,47.25 165.62,51.67 162.08,53.89 158.54,54.77 157.65,50.35 156.33,45.03 155.44,40.61 151.9,38.83 146.59,38.39 143.93,33.96"/><polygon points="170.94,46.36 172.71,45.48 172.04,50.35 170.27,50.79"/><polygon points="201.93,48.13 206.36,45.48 210.79,44.15 213.89,45.92 216.1,44.59 219.2,49.46 219.64,53 216.1,56.1 211.67,55.22 207.69,53 203.26,54.33 201.49,51.23"/><polygon points="228.06,56.99 229.83,55.66 227.61,59.64 225.84,60.53"/><polygon points="194.85,39.28 196.18,38.83 200.16,42.82 198.83,43.7"/><polygon points="202.82,39.28 206.36,37.95 207.02,41.49 203.7,42.6"/><polygon points="199.72,44.59 205.47,45.03 205.47,45.92 199.72,45.48"/><polygon points="213,41.49 219.64,42.38 222.3,45.03 216.54,44.15"/><polygon points="207.24,32.64 209.02,33.52 208.79,37.95 207.24,36.18"/><polygon points="216.1,21.57 217.87,18.91 219.42,21.12 216.99,25.11 214.77,25.99"/><polygon points="148.13,15.37 150.35,13.6 151.23,17.14 148.8,18.47"/><polygon points="143.26,10.94 146.59,10.28 146.81,12.05 143.71,12.27"/></g><g fill="none" stroke="#f7f7f8" stroke-width="0.32"><polyline points="90.35,7.4 90.8,12.71"/><polyline points="97.44,18.02 106.74,18.47 116.7,18.91 120.46,18.02 124.45,19.8"/><polyline points="102.75,27.77 107.18,28.21 110.28,29.54"/><polyline points="112.49,33.96 114.71,34.41"/><polyline points="118.25,40.61 122.23,41.49 127.1,40.16"/><polyline points="119.13,46.36 124.45,47.25 128.87,45.03 134.63,45.48"/><polyline points="121.35,53 124.89,52.12 128.43,53"/><polyline points="123.56,54.77 122.68,61.42"/><polyline points="125.77,42.82 127.1,48.13"/><polyline points="144.81,31.31 151.46,32.19 158.1,31.75 166.51,32.19"/><polyline points="150.13,25.99 151.01,31.75 150.13,37.95"/><polyline points="158.1,26.44 158.54,31.75 157.21,38.39"/><polyline points="163.41,27.32 163.85,32.64 166.51,38.39"/><polyline points="155.88,41.93 162.08,41.49 169.17,42.38"/><polyline points="158.54,47.25 163.41,46.36 167.4,47.69"/><polyline points="159.43,51.23 164.3,50.79"/><polyline points="162.08,32.64 161.64,41.49"/><polyline points="153.23,16.7 157.21,18.02 162.08,17.14 166.51,18.02"/><polyline points="158.1,13.6 159.87,19.35 158.54,22.89"/><polyline points="162.97,8.28 164.3,15.37 166.51,21.12 167.84,25.55"/><polyline points="151.46,19.35 155.44,20.24 159.43,21.12"/><polyline points="168.72,19.8 175.37,18.91 184.22,17.14 193.08,16.25 201.93,17.14 210.79,16.25 215.21,17.14"/><polyline points="173.15,9.17 174.48,17.14"/><polyline points="168.28,25.55 173.15,24.22 179.35,25.11 184.22,23.78"/><polyline points="179.79,29.54 184.22,25.99 193.08,25.11 199.72,23.34 208.57,22.45"/><polyline points="184.22,17.14 185.99,23.78"/><polyline points="193.08,25.11 194.4,32.19"/><polyline points="199.72,23.34 201.05,30.42 202.82,33.96"/><polyline points="173.59,25.11 174.04,29.98"/><polyline points="188.65,4.74 190.42,15.81"/><polyline points="204.15,6.07 205.47,16.7"/><polyline points="221.86,8.28 218.76,15.37"/><polyline points="206.8,46.36 207.69,53"/><polyline points="212.56,45.03 213,54.77"/></g></svg>
<div class="zb" style="left:544.65px;top:980.1px;width:16.5px;height:16.5px;"><div style="left:3.9px;top:3.9px;width:7.2px;height:7.2px;background:#2a2f35;border-radius:1.2px;"></div><div style="left:6px;top:6px;width:3px;height:3px;background:#d7dadd;"></div></div>
<div class="zb" style="left:544.65px;top:1006.2px;width:16.5px;height:16.5px;"><div style="left:4.2px;top:6.6px;width:6.6px;height:1.8px;background:#7f858c;"></div></div>
<div class="sw" style="left:540.6px;top:1045.2px;width:18.6px;height:18.6px;background:#e1ecf4;"></div>
<div class="sw" style="left:562.44px;top:1045.2px;width:18.6px;height:18.6px;background:#d3e3ee;"></div>
<div class="sw" style="left:584.28px;top:1045.2px;width:18.6px;height:18.6px;background:#c7dbe8;"></div>
<div class="sw" style="left:606.12px;top:1045.2px;width:18.6px;height:18.6px;background:#b4cfdf;"></div>
<div class="sw" style="left:627.96px;top:1045.2px;width:18.6px;height:18.6px;background:#a5c5d8;"></div>
<div class="sw" style="left:649.8px;top:1045.2px;width:18.6px;height:18.6px;background:#96bbd0;"></div>
<div class="sw" style="left:671.64px;top:1045.2px;width:18.6px;height:18.6px;background:#86b0c8;"></div>
<div class="sw" style="left:693.48px;top:1045.2px;width:18.6px;height:18.6px;background:#74a3bd;"></div>
<div class="sw" style="left:715.32px;top:1045.2px;width:18.6px;height:18.6px;background:#5b91ae;"></div>
<div class="sw" style="left:737.16px;top:1045.2px;width:18.6px;height:18.6px;background:#2a6f94;"></div>
<div class="sw" style="left:759px;top:1045.2px;width:18.6px;height:18.6px;background:#0f5b82;"></div>
<div style="left:539.4px;top:1084.5px;width:913.2px;height:1.35px;background:#cfd3d7;"></div>
<div style="left:539.4px;top:1109.7px;width:913.2px;height:1.35px;background:#dfe2e5;"></div>
<span class="t" style="left:544.5px;top:1094.04px;font-size:8.85px;line-height:11.52px;color:#454d56;font-weight:700;letter-spacing:0.84px;">SOURCE COUNTRY</span>
<span class="t" style="left:786.3px;top:1094.04px;font-size:8.85px;line-height:11.52px;color:#2a6a99;font-weight:700;letter-spacing:0.39px;">BYTES</span>
<span class="t" style="left:923.7px;top:1094.04px;font-size:8.85px;line-height:11.52px;color:#2a6a99;font-weight:700;letter-spacing:0.57px;">SESSIONS</span>
<span class="t" style="left:1074.3px;top:1094.04px;font-size:8.85px;line-height:11.52px;color:#2a6a99;font-weight:700;letter-spacing:0.81px;">THREATS</span>
<span class="t" style="left:1215.6px;top:1094.04px;font-size:8.85px;line-height:11.52px;color:#2a6a99;font-weight:700;letter-spacing:0.87px;">CONTENT</span>
<span class="t" style="left:1369.8px;top:1094.04px;font-size:8.85px;line-height:11.52px;color:#2a6a99;font-weight:700;letter-spacing:0.21px;">URLS</span>
<span class="t" style="left:562.8px;top:1114.08px;font-size:11.01px;line-height:14.31px;color:#1273c6;">192.168.0.0-192.168.255.255</span>
<span class="t" style="left:744.96px;top:1115.07px;font-size:10.65px;line-height:13.86px;color:#2b3036;">29.4T</span>
<div class="bar" style="left:776.1px;top:1116.3px;width:92.4px;height:9px;"></div>
<span class="t" style="left:893.13px;top:1115.07px;font-size:10.65px;line-height:13.86px;color:#2b3036;">2.4M</span>
<div class="bar" style="left:920.1px;top:1116.3px;width:2.4px;height:9px;"></div>
<span class="t" style="left:1030.02px;top:1115.07px;font-size:10.65px;line-height:13.86px;color:#2b3036;">231.6k</span>
<div class="bar" style="left:1065.6px;top:1116.3px;width:33.6px;height:9px;"></div>
<span class="t" style="left:1177.62px;top:1115.07px;font-size:10.65px;line-height:13.86px;color:#2b3036;">248.9k</span>
<div class="bar" style="left:1213.2px;top:1116.3px;width:6px;height:9px;"></div>
<span class="t" style="left:1316.52px;top:1115.07px;font-size:10.65px;line-height:13.86px;color:#2b3036;">248.4k</span>
<div class="bar" style="left:1351.5px;top:1116.3px;width:3.6px;height:9px;"></div>
<span class="t" style="left:562.8px;top:1134.18px;font-size:11.01px;line-height:14.31px;color:#1273c6;">10.0.0.0-10.255.255.255</span>
<span class="t" style="left:750.9px;top:1135.17px;font-size:10.65px;line-height:13.86px;color:#2b3036;">1.1T</span>
<div class="bar" style="left:776.1px;top:1136.4px;width:4.5px;height:9px;"></div>
<span class="t" style="left:881.28px;top:1135.17px;font-size:10.65px;line-height:13.86px;color:#2b3036;">130.8M</span>
<div class="bar" style="left:920.1px;top:1136.4px;width:98.4px;height:9px;"></div>
<span class="t" style="left:1030.02px;top:1135.17px;font-size:10.65px;line-height:13.86px;color:#2b3036;">706.7k</span>
<div class="bar" style="left:1065.6px;top:1136.4px;width:99.9px;height:9px;"></div>
<span class="t" style="left:1185.93px;top:1135.17px;font-size:10.65px;line-height:13.86px;color:#2b3036;">4.4M</span>
<div class="bar" style="left:1213.2px;top:1136.4px;width:90.9px;height:9px;"></div>
<span class="t" style="left:1318.89px;top:1135.17px;font-size:10.65px;line-height:13.86px;color:#2b3036;">45.6M</span>
<div class="bar" style="left:1351.5px;top:1136.4px;width:97.8px;height:9px;"></div>
<div style="left:545.1px;top:1156.8px;width:13.2px;height:9px;background:repeating-linear-gradient(180deg,#d63845 0,#d63845 1.86px,#f3d9dc 1.86px,#f3d9dc 2.58px);"><div style="left:0;top:0;width:6.3px;height:5.1px;background:#3a4ca6;"></div></div>
<span class="t" style="left:562.8px;top:1154.58px;font-size:11.01px;line-height:14.31px;color:#1273c6;">United States</span>
<span class="t" style="left:737.28px;top:1155.57px;font-size:10.65px;line-height:13.86px;color:#2b3036;">138.8G</span>
<div class="bar" style="left:776.1px;top:1156.8px;width:1.2px;height:9px;"></div>
<span class="t" style="left:887.19px;top:1155.57px;font-size:10.65px;line-height:13.86px;color:#2b3036;">15.9M</span>
<div class="bar" style="left:920.1px;top:1156.8px;width:12px;height:9px;"></div>
<span class="t" style="left:1030.02px;top:1155.57px;font-size:10.65px;line-height:13.86px;color:#2b3036;">396.2k</span>
<div class="bar" style="left:1065.6px;top:1156.8px;width:57.3px;height:9px;"></div>
<span class="t" style="left:1177.62px;top:1155.57px;font-size:10.65px;line-height:13.86px;color:#2b3036;">412.1k</span>
<div class="bar" style="left:1213.2px;top:1156.8px;width:10.2px;height:9px;"></div>
<span class="t" style="left:1316.52px;top:1155.57px;font-size:10.65px;line-height:13.86px;color:#2b3036;">402.5k</span>
<div class="bar" style="left:1351.5px;top:1156.8px;width:3.6px;height:9px;"></div>
<div style="left:545.1px;top:1177.2px;width:13.2px;height:9px;background:#e2231f;"><div style="left:4.5px;top:2.4px;width:4.2px;height:4.2px;border-radius:50%;background:#fff;"></div></div>
<span class="t" style="left:562.8px;top:1174.98px;font-size:11.01px;line-height:14.31px;color:#1273c6;">Hong Kong</span>
<span class="t" style="left:743.97px;top:1175.97px;font-size:10.65px;line-height:13.86px;color:#2b3036;">11.7G</span>
<div class="bar" style="left:776.1px;top:1177.2px;width:1.2px;height:9px;"></div>
<span class="t" style="left:890.76px;top:1175.97px;font-size:10.65px;line-height:13.86px;color:#2b3036;">51.9k</span>
<div class="bar" style="left:920.1px;top:1177.2px;width:1.2px;height:9px;"></div>
<span class="t" style="left:1052.49px;top:1175.97px;font-size:10.65px;line-height:13.86px;color:#2b3036;">0</span>
<span class="t" style="left:1200.09px;top:1175.97px;font-size:10.65px;line-height:13.86px;color:#2b3036;">0</span>
<span class="t" style="left:1338.99px;top:1175.97px;font-size:10.65px;line-height:13.86px;color:#2b3036;">0</span>
<div style="left:545.1px;top:1197px;width:13.2px;height:9px;background:#fff;"><div style="left:0;top:3.15px;width:13.2px;height:2.7px;background:#2c54b8;"></div><div style="left:3.6px;top:0;width:2.7px;height:9px;background:#2c54b8;"></div></div>
<span class="t" style="left:562.8px;top:1194.78px;font-size:11.01px;line-height:14.31px;color:#1273c6;">Finland</span>
<span class="t" style="left:749.1px;top:1195.77px;font-size:10.65px;line-height:13.86px;color:#2b3036;">5.8G</span>
<div class="bar" style="left:776.1px;top:1197px;width:1.2px;height:9px;"></div>
<span class="t" style="left:890.76px;top:1195.77px;font-size:10.65px;line-height:13.86px;color:#2b3036;">30.3k</span>
<div class="bar" style="left:920.1px;top:1197px;width:1.2px;height:9px;"></div>
<span class="t" style="left:1052.49px;top:1195.77px;font-size:10.65px;line-height:13.86px;color:#2b3036;">0</span>
<span class="t" style="left:1200.09px;top:1195.77px;font-size:10.65px;line-height:13.86px;color:#2b3036;">0</span>
<span class="t" style="left:1338.99px;top:1195.77px;font-size:10.65px;line-height:13.86px;color:#2b3036;">0</span>
<div style="left:539.4px;top:1130.25px;width:913.2px;height:1.2px;background:#eceef0;"></div>
<div style="left:539.4px;top:1150.5px;width:913.2px;height:1.2px;background:#eceef0;"></div>
<div style="left:539.4px;top:1170.9px;width:913.2px;height:1.2px;background:#eceef0;"></div>
<div style="left:539.4px;top:1191px;width:913.2px;height:1.2px;background:#eceef0;"></div>
<div style="left:539.4px;top:1211.4px;width:913.2px;height:1.2px;background:#eceef0;"></div>
<div style="left:1463.4px;top:178.5px;width:10.5px;height:1048.5px;background:#fbfbfc;"></div>
<div style="left:1473.9px;top:180px;width:951.6px;height:571.2px;border:1.35px solid #e1e4e7;background:#fff;"></div>
<div style="left:1473.9px;top:180px;width:951.6px;height:26.1px;background:#d9dbde;border-top:1.5px solid #c3c6ca;"></div>
<span class="t" style="left:1480.2px;top:184.8px;font-size:12.9px;line-height:16.77px;color:#2c3137;letter-spacing:0.06px;-webkit-text-stroke:0;">Destination IP Activity</span>
<div class="radon" style="left:1491.3px;top:216px;width:13.2px;height:13.2px;"><i></i></div>
<span class="t" style="left:1511.1px;top:216.24px;font-size:10.5px;line-height:13.65px;color:#6f7780;letter-spacing:-0.39px;">bytes</span>
<div class="rad" style="left:1547.1px;top:216px;width:13.2px;height:13.2px;"></div>
<span class="t" style="left:1564.2px;top:216.24px;font-size:10.5px;line-height:13.65px;color:#6f7780;letter-spacing:-0.33px;">sessions</span>
<div class="rad" style="left:1615.2px;top:216px;width:13.2px;height:13.2px;"></div>
<span class="t" style="left:1633.2px;top:216.24px;font-size:10.5px;line-height:13.65px;color:#6f7780;letter-spacing:0.48px;">threats</span>
<div class="rad" style="left:1680px;top:216px;width:13.2px;height:13.2px;"></div>
<span class="t" style="left:1697.1px;top:216.24px;font-size:10.5px;line-height:13.65px;color:#6f7780;letter-spacing:0.51px;">content</span>
<div class="rad" style="left:1748.1px;top:216px;width:13.2px;height:13.2px;"></div>
<span class="t" style="left:1764.3px;top:216.24px;font-size:10.5px;line-height:13.65px;color:#6f7780;letter-spacing:-0.57px;">URLs</span>
<span class="t" style="left:1488.9px;top:242.31px;font-size:10.11px;line-height:13.17px;color:#86bbe6;-webkit-text-stroke:0;">Home</span>
<svg style="left:1473.9px;top:205.8px;width:951.6px;height:300px;" viewBox="0 0 317.2 100"><path d="M26.4 22.8 H309.2" stroke="#e3e5e8" stroke-width="0.45"/><path d="M26.4 39 H309.2" stroke="#e3e5e8" stroke-width="0.45"/><path d="M26.4 55.2 H309.2" stroke="#e3e5e8" stroke-width="0.45"/><path d="M26.4 71.4 H309.2" stroke="#e3e5e8" stroke-width="0.45"/><polyline points="30.6,71.8 39.72,71.4 48.84,70.8 57.96,70.8 67.08,70.8 76.2,70.8 85.32,70.8 94.44,70.8 103.56,70.8 112.68,70.8 121.8,70.8 130.92,70.8 140.04,70.8 149.16,70.8 158.28,70.8 167.4,70.8 176.52,70.8 185.64,70.8 194.76,70.8 203.88,70.8 213,70.8 222.12,70.8 231.24,70.8 240.36,70.8 249.48,70.8 258.6,70.8 267.72,70.8 276.84,70.8 285.96,70.8 295.08,70.8 304.2,70.8" fill="none" stroke="#8dbb1c" stroke-width="0.75" stroke-linejoin="round"/><circle cx="30.6" cy="71.8" r="1.15" fill="#8dbb1c"/><circle cx="39.72" cy="71.4" r="1.15" fill="#8dbb1c"/><circle cx="48.84" cy="70.8" r="1.15" fill="#8dbb1c"/><circle cx="57.96" cy="70.8" r="1.15" fill="#8dbb1c"/><circle cx="67.08" cy="70.8" r="1.15" fill="#8dbb1c"/><circle cx="76.2" cy="70.8" r="1.15" fill="#8dbb1c"/><circle cx="85.32" cy="70.8" r="1.15" fill="#8dbb1c"/><circle cx="94.44" cy="70.8" r="1.15" fill="#8dbb1c"/><circle cx="103.56" cy="70.8" r="1.15" fill="#8dbb1c"/><circle cx="112.68" cy="70.8" r="1.15" fill="#8dbb1c"/><circle cx="121.8" cy="70.8" r="1.15" fill="#8dbb1c"/><circle cx="130.92" cy="70.8" r="1.15" fill="#8dbb1c"/><circle cx="140.04" cy="70.8" r="1.15" fill="#8dbb1c"/><circle cx="149.16" cy="70.8" r="1.15" fill="#8dbb1c"/><circle cx="158.28" cy="70.8" r="1.15" fill="#8dbb1c"/><circle cx="167.4" cy="70.8" r="1.15" fill="#8dbb1c"/><circle cx="176.52" cy="70.8" r="1.15" fill="#8dbb1c"/><circle cx="185.64" cy="70.8" r="1.15" fill="#8dbb1c"/><circle cx="194.76" cy="70.8" r="1.15" fill="#8dbb1c"/><circle cx="203.88" cy="70.8" r="1.15" fill="#8dbb1c"/><circle cx="213" cy="70.8" r="1.15" fill="#8dbb1c"/><circle cx="222.12" cy="70.8" r="1.15" fill="#8dbb1c"/><circle cx="231.24" cy="70.8" r="1.15" fill="#8dbb1c"/><circle cx="240.36" cy="70.8" r="1.15" fill="#8dbb1c"/><circle cx="249.48" cy="70.8" r="1.15" fill="#8dbb1c"/><circle cx="258.6" cy="70.8" r="1.15" fill="#8dbb1c"/><circle cx="267.72" cy="70.8" r="1.15" fill="#8dbb1c"/><circle cx="276.84" cy="70.8" r="1.15" fill="#8dbb1c"/><circle cx="285.96" cy="70.8" r="1.15" fill="#8dbb1c"/><circle cx="295.08" cy="70.8" r="1.15" fill="#8dbb1c"/><circle cx="304.2" cy="70.8" r="1.15" fill="#8dbb1c"/><polyline points="30.6,68.1 39.72,61.6 48.84,37.4 57.96,37.8 67.08,36.4 76.2,37.2 85.32,39 94.44,37.2 103.56,38.4 112.68,37.8 121.8,38.2 130.92,37.8 140.04,39 149.16,38.4 158.28,35.5 167.4,38.6 176.52,31.5 185.64,37.8 194.76,37.6 203.88,37.8 213,38.4 222.12,38.2 231.24,37.8 240.36,39.5 249.48,37.6 258.6,39.4 267.72,37.4 276.84,40.7 285.96,40.1 295.08,46.2 304.2,42.9" fill="none" stroke="#1f5f8b" stroke-width="0.75" stroke-linejoin="round"/><circle cx="30.6" cy="68.1" r="1.15" fill="#1f5f8b"/><circle cx="39.72" cy="61.6" r="1.15" fill="#1f5f8b"/><circle cx="48.84" cy="37.4" r="1.15" fill="#1f5f8b"/><circle cx="57.96" cy="37.8" r="1.15" fill="#1f5f8b"/><circle cx="67.08" cy="36.4" r="1.15" fill="#1f5f8b"/><circle cx="76.2" cy="37.2" r="1.15" fill="#1f5f8b"/><circle cx="85.32" cy="39" r="1.15" fill="#1f5f8b"/><circle cx="94.44" cy="37.2" r="1.15" fill="#1f5f8b"/><circle cx="103.56" cy="38.4" r="1.15" fill="#1f5f8b"/><circle cx="112.68" cy="37.8" r="1.15" fill="#1f5f8b"/><circle cx="121.8" cy="38.2" r="1.15" fill="#1f5f8b"/><circle cx="130.92" cy="37.8" r="1.15" fill="#1f5f8b"/><circle cx="140.04" cy="39" r="1.15" fill="#1f5f8b"/><circle cx="149.16" cy="38.4" r="1.15" fill="#1f5f8b"/><circle cx="158.28" cy="35.5" r="1.15" fill="#1f5f8b"/><circle cx="167.4" cy="38.6" r="1.15" fill="#1f5f8b"/><circle cx="176.52" cy="31.5" r="1.15" fill="#1f5f8b"/><circle cx="185.64" cy="37.8" r="1.15" fill="#1f5f8b"/><circle cx="194.76" cy="37.6" r="1.15" fill="#1f5f8b"/><circle cx="203.88" cy="37.8" r="1.15" fill="#1f5f8b"/><circle cx="213" cy="38.4" r="1.15" fill="#1f5f8b"/><circle cx="222.12" cy="38.2" r="1.15" fill="#1f5f8b"/><circle cx="231.24" cy="37.8" r="1.15" fill="#1f5f8b"/><circle cx="240.36" cy="39.5" r="1.15" fill="#1f5f8b"/><circle cx="249.48" cy="37.6" r="1.15" fill="#1f5f8b"/><circle cx="258.6" cy="39.4" r="1.15" fill="#1f5f8b"/><circle cx="267.72" cy="37.4" r="1.15" fill="#1f5f8b"/><circle cx="276.84" cy="40.7" r="1.15" fill="#1f5f8b"/><circle cx="285.96" cy="40.1" r="1.15" fill="#1f5f8b"/><circle cx="295.08" cy="46.2" r="1.15" fill="#1f5f8b"/><circle cx="304.2" cy="42.9" r="1.15" fill="#1f5f8b"/><path d="M123.8 88.6 h4.4" stroke="#8dbb1c" stroke-width="0.7"/><circle cx="126" cy="88.6" r="1.15" fill="#8dbb1c"/><path d="M158.7 88.6 h4.4" stroke="#1f5f8b" stroke-width="0.7"/><circle cx="160.9" cy="88.6" r="1.15" fill="#1f5f8b"/></svg>
<span class="t" style="left:1509.42px;top:268.77px;font-size:10.65px;line-height:13.86px;color:#7b828a;letter-spacing:0.36px;">1.50T</span>
<span class="t" style="left:1509.42px;top:317.37px;font-size:10.65px;line-height:13.86px;color:#7b828a;letter-spacing:0.36px;">1.00T</span>
<span class="t" style="left:1495.08px;top:365.97px;font-size:10.65px;line-height:13.86px;color:#7b828a;letter-spacing:0.36px;">500.00G</span>
<span class="t" style="left:1532.19px;top:415.17px;font-size:10.65px;line-height:13.86px;color:#7b828a;letter-spacing:0.36px;">0</span>
<span class="t" style="left:1551.66px;top:431.07px;font-size:10.65px;line-height:13.86px;color:#7b828a;letter-spacing:0.36px;">10/17</span>
<span class="t" style="left:1688.46px;top:431.07px;font-size:10.65px;line-height:13.86px;color:#7b828a;letter-spacing:0.36px;">10/21</span>
<span class="t" style="left:1825.26px;top:431.07px;font-size:10.65px;line-height:13.86px;color:#7b828a;letter-spacing:0.36px;">10/26</span>
<span class="t" style="left:1962.06px;top:431.07px;font-size:10.65px;line-height:13.86px;color:#7b828a;letter-spacing:0.36px;">10/31</span>
<span class="t" style="left:2099.25px;top:431.07px;font-size:10.65px;line-height:13.86px;color:#7b828a;letter-spacing:0.36px;">11/05</span>
<span class="t" style="left:2236.05px;top:431.07px;font-size:10.65px;line-height:13.86px;color:#7b828a;letter-spacing:0.36px;">11/10</span>
<span class="t" style="left:2369.85px;top:431.07px;font-size:10.65px;line-height:13.86px;color:#7b828a;letter-spacing:0.36px;">11/16</span>
<span class="t" style="left:1866px;top:464.13px;font-size:12.06px;line-height:15.69px;color:#2f343a;font-weight:700;">bytes_sent</span>
<span class="t" style="left:1969.5px;top:464.25px;font-size:11.88px;line-height:15.42px;color:#2f343a;font-weight:700;">bytes_received</span>
<div style="left:1485px;top:500.4px;width:928.5px;height:1.35px;background:#cfd3d7;"></div>
<div style="left:1485px;top:525.6px;width:928.5px;height:1.35px;background:#dfe2e5;"></div>
<span class="t" style="left:1489.5px;top:509.94px;font-size:8.85px;line-height:11.52px;color:#454d56;font-weight:700;letter-spacing:0.96px;">DESTINATION ADDRESS</span>
<span class="t" style="left:1962.9px;top:509.94px;font-size:8.85px;line-height:11.52px;color:#454d56;font-weight:700;letter-spacing:1.02px;">DESTINATION M...</span>
<span class="t" style="left:2077.65px;top:509.94px;font-size:8.85px;line-height:11.52px;color:#2a6a99;font-weight:700;letter-spacing:0.45px;">BYTES</span>
<span class="t" style="left:2127.6px;top:509.94px;font-size:8.85px;line-height:11.52px;color:#2a6a99;font-weight:700;letter-spacing:0.45px;">SESSIO...</span>
<span class="t" style="left:1489.5px;top:530.88px;font-size:11.01px;line-height:14.31px;color:#1273c6;">192.168.162.21</span>
<span class="t" style="left:2077.56px;top:531.87px;font-size:10.65px;line-height:13.86px;color:#2b3036;">17.0T</span>
<div class="bar" style="left:2107.5px;top:533.1px;width:8.7px;height:9px;"></div>
<span class="t" style="left:2134.5px;top:531.87px;font-size:10.65px;line-height:13.86px;color:#2b3036;">325.2k</span>
<span class="t" style="left:1489.5px;top:550.95px;font-size:11.01px;line-height:14.31px;color:#1273c6;">192.168.162.121</span>
<span class="t" style="left:2078.37px;top:551.94px;font-size:10.65px;line-height:13.86px;color:#2b3036;">11.9T</span>
<div class="bar" style="left:2107.5px;top:553.17px;width:6.3px;height:9px;"></div>
<span class="t" style="left:2134.5px;top:551.94px;font-size:10.65px;line-height:13.86px;color:#2b3036;">15.2k</span>
<span class="t" style="left:1489.5px;top:571.02px;font-size:11.01px;line-height:14.31px;color:#1273c6;">host86-136-151-56.range86-136.btcentralplus.com</span>
<span class="t" style="left:2069.88px;top:572.01px;font-size:10.65px;line-height:13.86px;color:#2b3036;">248.4G</span>
<div class="bar" style="left:2107.5px;top:573.24px;width:0.9px;height:9px;"></div>
<span class="t" style="left:2134.5px;top:572.01px;font-size:10.65px;line-height:13.86px;color:#2b3036;">15.2k</span>
<span class="t" style="left:1489.5px;top:591.09px;font-size:11.01px;line-height:14.31px;color:#1273c6;">67.192.180.218</span>
<span class="t" style="left:2070.66px;top:592.08px;font-size:10.65px;line-height:13.86px;color:#2b3036;">117.9G</span>
<div class="bar" style="left:2107.5px;top:593.31px;width:0.9px;height:9px;"></div>
<span class="t" style="left:2134.5px;top:592.08px;font-size:10.65px;line-height:13.86px;color:#2b3036;">65.2k</span>
<span class="t" style="left:1489.5px;top:611.16px;font-size:11.01px;line-height:14.31px;color:#1273c6;">124-168-6-6.tpgi.com.au</span>
<span class="t" style="left:2075.79px;top:612.15px;font-size:10.65px;line-height:13.86px;color:#2b3036;">50.5G</span>
<div class="bar" style="left:2107.5px;top:613.38px;width:0.9px;height:9px;"></div>
<span class="t" style="left:2134.5px;top:612.15px;font-size:10.65px;line-height:13.86px;color:#2b3036;">15.2k</span>
<span class="t" style="left:1489.5px;top:631.23px;font-size:11.01px;line-height:14.31px;color:#1273c6;">12.120.14.206</span>
<span class="t" style="left:2075.79px;top:632.22px;font-size:10.65px;line-height:13.86px;color:#2b3036;">47.2G</span>
<div class="bar" style="left:2107.5px;top:633.45px;width:0.9px;height:9px;"></div>
<span class="t" style="left:2134.5px;top:632.22px;font-size:10.65px;line-height:13.86px;color:#2b3036;">705.2k</span>
<span class="t" style="left:1489.5px;top:651.3px;font-size:11.01px;line-height:14.31px;color:#1273c6;">10.154.220.109</span>
<span class="t" style="left:2075.79px;top:652.29px;font-size:10.65px;line-height:13.86px;color:#2b3036;">44.9G</span>
<div class="bar" style="left:2107.5px;top:653.52px;width:0.9px;height:9px;"></div>
<span class="t" style="left:2134.5px;top:652.29px;font-size:10.65px;line-height:13.86px;color:#2b3036;">55.2k</span>
<span class="t" style="left:1489.5px;top:671.37px;font-size:11.01px;line-height:14.31px;color:#1273c6;">netflix-1-tiri-agg2.cenic.net</span>
<span class="t" style="left:2075.79px;top:672.36px;font-size:10.65px;line-height:13.86px;color:#2b3036;">38.5G</span>
<div class="bar" style="left:2107.5px;top:673.59px;width:0.9px;height:9px;"></div>
<span class="t" style="left:2134.5px;top:672.36px;font-size:10.65px;line-height:13.86px;color:#2b3036;">175.2k</span>
<span class="t" style="left:1489.5px;top:691.44px;font-size:11.01px;line-height:14.31px;color:#1273c6;">c-76-21-69-86.hsd1.ca.comcast.net</span>
<span class="t" style="left:2075.79px;top:692.43px;font-size:10.65px;line-height:13.86px;color:#2b3036;">31.4G</span>
<div class="bar" style="left:2107.5px;top:693.66px;width:0.9px;height:9px;"></div>
<span class="t" style="left:2134.5px;top:692.43px;font-size:10.65px;line-height:13.86px;color:#2b3036;">25.2k</span>
<span class="t" style="left:1489.5px;top:711.51px;font-size:11.01px;line-height:14.31px;color:#1273c6;">smtp250.dta-four.de</span>
<span class="t" style="left:2075.79px;top:712.5px;font-size:10.65px;line-height:13.86px;color:#2b3036;">29.1G</span>
<div class="bar" style="left:2107.5px;top:713.73px;width:0.9px;height:9px;"></div>
<span class="t" style="left:2134.5px;top:712.5px;font-size:10.65px;line-height:13.86px;color:#2b3036;">105.2k</span>
<span class="t" style="left:1489.5px;top:730.38px;font-size:11.01px;line-height:14.31px;color:#2b3036;">others</span>
<span class="t" style="left:1964.7px;top:730.38px;font-size:11.01px;line-height:14.31px;color:#2b3036;">others</span>
<span class="t" style="left:2069.88px;top:731.37px;font-size:10.65px;line-height:13.86px;color:#2b3036;">924.4G</span>
<div class="bar" style="left:2107.5px;top:732.6px;width:0.9px;height:9px;"></div>
<span class="t" style="left:2127px;top:731.37px;font-size:10.65px;line-height:13.86px;color:#2b3036;">149.2M</span>
<div style="left:1485px;top:547.02px;width:928.5px;height:1.2px;background:#eceef0;"></div>
<div style="left:1485px;top:567.09px;width:928.5px;height:1.2px;background:#eceef0;"></div>
<div style="left:1485px;top:587.16px;width:928.5px;height:1.2px;background:#eceef0;"></div>
<div style="left:1485px;top:607.23px;width:928.5px;height:1.2px;background:#eceef0;"></div>
<div style="left:1485px;top:627.3px;width:928.5px;height:1.2px;background:#eceef0;"></div>
<div style="left:1485px;top:647.4px;width:928.5px;height:1.2px;background:#eceef0;"></div>
<div style="left:1485px;top:667.47px;width:928.5px;height:1.2px;background:#eceef0;"></div>
<div style="left:1485px;top:687.54px;width:928.5px;height:1.2px;background:#eceef0;"></div>
<div style="left:1485px;top:707.61px;width:928.5px;height:1.2px;background:#eceef0;"></div>
<div style="left:1485px;top:727.68px;width:928.5px;height:1.2px;background:#eceef0;"></div>
<div style="left:1473.9px;top:763.5px;width:951.6px;height:496.5px;border:1.35px solid #e1e4e7;background:#fff;"></div>
<div style="left:1473.9px;top:763.5px;width:951.6px;height:25.5px;background:#d9dbde;border-top:1.5px solid #c3c6ca;"></div>
<span class="t" style="left:1480.2px;top:768px;font-size:12.9px;line-height:16.77px;color:#2c3137;letter-spacing:-0.09px;-webkit-text-stroke:0;">Destination Regions</span>
<div class="rad" style="left:1491.3px;top:797.7px;width:13.2px;height:13.2px;"></div>
<span class="t" style="left:1511.1px;top:797.94px;font-size:10.5px;line-height:13.65px;color:#6f7780;letter-spacing:-0.39px;">bytes</span>
<div class="radon" style="left:1547.1px;top:797.7px;width:13.2px;height:13.2px;"><i></i></div>
<span class="t" style="left:1564.2px;top:797.94px;font-size:10.5px;line-height:13.65px;color:#6f7780;letter-spacing:-0.33px;">sessions</span>
<div class="rad" style="left:1615.2px;top:797.7px;width:13.2px;height:13.2px;"></div>
<span class="t" style="left:1633.2px;top:797.94px;font-size:10.5px;line-height:13.65px;color:#6f7780;letter-spacing:0.48px;">threats</span>
<div class="rad" style="left:1680px;top:797.7px;width:13.2px;height:13.2px;"></div>
<span class="t" style="left:1697.1px;top:797.94px;font-size:10.5px;line-height:13.65px;color:#6f7780;letter-spacing:0.51px;">content</span>
<div class="rad" style="left:1748.1px;top:797.7px;width:13.2px;height:13.2px;"></div>
<span class="t" style="left:1764.3px;top:797.94px;font-size:10.5px;line-height:13.65px;color:#6f7780;letter-spacing:-0.57px;">URLs</span>
<span class="t" style="left:1488.9px;top:826.41px;font-size:10.11px;line-height:13.17px;color:#86bbe6;-webkit-text-stroke:0;">Home</span>
<svg style="left:1473.9px;top:840px;width:976.02px;height:204px;" viewBox="0 0 325.34 68"><g fill="#e5e6e8" stroke="#f6f6f7" stroke-width="0.3"><polygon points="79.26,10.5 83.76,7.84 92.76,7.18 99.51,6.07 107.39,4.96 115.27,4.3 122.02,5.63 126.07,8.28 129.23,11.6 126.97,14.48 124.95,12.27 121.57,13.15 122.47,16.25 126.52,15.37 131.48,15.37 133.73,18.02 130.58,19.8 126.97,21.12 124.72,22.01 123.37,24.22 121.12,27.32 119.32,29.98 118.42,32.64 116.62,29.98 114.37,28.65 111.67,29.09 110.77,31.75 113.92,33.96 116.62,32.64 117.07,34.85 119.32,37.06 121.57,38.39 118.87,38.39 114.37,35.29 108.97,32.19 105.82,28.65 104.02,27.77 102.22,24.22 99.96,19.8 99.06,15.37 94.56,12.71 89.61,11.83 84.21,12.71 79.71,12.27"/><polygon points="129.23,3.86 135.53,2.97 146.33,3.41 143.63,6.51 139.13,9.61 135.98,11.6 133.28,9.17 130.58,6.07"/><polygon points="113.02,4.3 118.65,3.41 124.27,3.86 123.37,5.18 117.52,5.41"/><polygon points="119.77,37.06 124.27,35.29 129.23,36.62 134.18,39.72 139.13,42.38 138.23,46.8 135.08,50.35 131.93,54.77 128.33,59.2 125.62,62.74 122.92,61.86 123.37,56.1 122.02,50.35 119.32,45.03 117.97,40.61"/><polygon points="150.16,23.78 150.83,20.68 154.44,19.35 153.08,17.14 156.69,16.25 158.94,14.04 156.69,11.83 158.94,8.73 164.79,5.63 171.54,6.07 176.04,8.28 182.8,6.07 189.55,4.3 196.3,3.41 205.3,4.74 216.56,6.07 227.81,7.84 239.07,10.05 235.92,12.71 228.26,13.6 226.01,17.58 223.76,15.37 218.81,16.25 217.01,19.8 218.81,23.34 216.56,25.55 214.76,29.09 210.26,32.19 206.2,34.41 204.4,37.95 201.7,39.28 199.9,35.29 197.65,32.64 194.5,30.42 192.25,34.85 190,38.39 187.3,33.96 185.05,30.42 181.9,29.54 178.74,28.21 176.49,30.42 179.64,33.96 176.49,36.18 172.89,37.06 170.64,32.64 169.29,28.21 170.64,25.99 167.04,25.11 162.54,25.11 161.19,22.89 159.39,24.22 157.14,21.57 154.89,22.89 152.63,21.57 151.73,25.11"/><polygon points="146.78,28.21 149.93,25.55 157.14,25.11 161.64,25.99 168.39,27.32 170.64,31.75 172.89,36.18 176.49,37.95 172.89,42.82 170.64,47.25 168.39,51.67 164.79,53.89 161.19,54.77 160.29,50.35 158.94,45.03 158.04,40.61 154.44,38.83 149.03,38.39 146.33,33.96"/><polygon points="173.79,46.36 175.59,45.48 174.92,50.35 173.12,50.79"/><polygon points="205.3,48.13 209.81,45.48 214.31,44.15 217.46,45.92 219.71,44.59 222.86,49.46 223.31,53 219.71,56.1 215.21,55.22 211.16,53 206.65,54.33 204.85,51.23"/><polygon points="231.86,56.99 233.66,55.66 231.41,59.64 229.61,60.53"/><polygon points="198.1,39.28 199.45,38.83 203.5,42.82 202.15,43.7"/><polygon points="206.2,39.28 209.81,37.95 210.48,41.49 207.1,42.6"/><polygon points="203.05,44.59 208.91,45.03 208.91,45.92 203.05,45.48"/><polygon points="216.56,41.49 223.31,42.38 226.01,45.03 220.16,44.15"/><polygon points="210.71,32.64 212.51,33.52 212.28,37.95 210.71,36.18"/><polygon points="219.71,21.57 221.51,18.91 223.09,21.12 220.61,25.11 218.36,25.99"/><polygon points="150.61,15.37 152.86,13.6 153.76,17.14 151.28,18.47"/><polygon points="145.66,10.94 149.03,10.28 149.26,12.05 146.11,12.27"/></g><g fill="none" stroke="#f7f7f8" stroke-width="0.32"><polyline points="91.86,7.4 92.31,12.71"/><polyline points="99.06,18.02 108.52,18.47 118.65,18.91 122.47,18.02 126.52,19.8"/><polyline points="104.47,27.77 108.97,28.21 112.12,29.54"/><polyline points="114.37,33.96 116.62,34.41"/><polyline points="120.22,40.61 124.27,41.49 129.23,40.16"/><polyline points="121.12,46.36 126.52,47.25 131.03,45.03 136.88,45.48"/><polyline points="123.37,53 126.97,52.12 130.58,53"/><polyline points="125.62,54.77 124.72,61.42"/><polyline points="127.88,42.82 129.23,48.13"/><polyline points="147.23,31.31 153.98,32.19 160.74,31.75 169.29,32.19"/><polyline points="152.63,25.99 153.53,31.75 152.63,37.95"/><polyline points="160.74,26.44 161.19,31.75 159.84,38.39"/><polyline points="166.14,27.32 166.59,32.64 169.29,38.39"/><polyline points="158.49,41.93 164.79,41.49 171.99,42.38"/><polyline points="161.19,47.25 166.14,46.36 170.19,47.69"/><polyline points="162.09,51.23 167.04,50.79"/><polyline points="164.79,32.64 164.34,41.49"/><polyline points="155.79,16.7 159.84,18.02 164.79,17.14 169.29,18.02"/><polyline points="160.74,13.6 162.54,19.35 161.19,22.89"/><polyline points="165.69,8.28 167.04,15.37 169.29,21.12 170.64,25.55"/><polyline points="153.98,19.35 158.04,20.24 162.09,21.12"/><polyline points="171.54,19.8 178.29,18.91 187.3,17.14 196.3,16.25 205.3,17.14 214.31,16.25 218.81,17.14"/><polyline points="176.04,9.17 177.39,17.14"/><polyline points="171.09,25.55 176.04,24.22 182.35,25.11 187.3,23.78"/><polyline points="182.8,29.54 187.3,25.99 196.3,25.11 203.05,23.34 212.06,22.45"/><polyline points="187.3,17.14 189.1,23.78"/><polyline points="196.3,25.11 197.65,32.19"/><polyline points="203.05,23.34 204.4,30.42 206.2,33.96"/><polyline points="176.49,25.11 176.94,29.98"/><polyline points="191.8,4.74 193.6,15.81"/><polyline points="207.55,6.07 208.91,16.7"/><polyline points="225.56,8.28 222.41,15.37"/><polyline points="210.26,46.36 211.16,53"/><polyline points="216.11,45.03 216.56,54.77"/></g></svg>
<div class="zb" style="left:1489.95px;top:980.1px;width:16.5px;height:16.5px;"><div style="left:3.9px;top:3.9px;width:7.2px;height:7.2px;background:#2a2f35;border-radius:1.2px;"></div><div style="left:6px;top:6px;width:3px;height:3px;background:#d7dadd;"></div></div>
<div class="zb" style="left:1489.95px;top:1006.2px;width:16.5px;height:16.5px;"><div style="left:4.2px;top:6.6px;width:6.6px;height:1.8px;background:#7f858c;"></div></div>
<div class="sw" style="left:1486.2px;top:1044.9px;width:18.6px;height:18.6px;background:#a9c9d9;"></div>
<div class="sw" style="left:1507.92px;top:1044.9px;width:18.6px;height:18.6px;background:#9fc2d4;"></div>
<div class="sw" style="left:1529.64px;top:1044.9px;width:18.6px;height:18.6px;background:#97bccf;"></div>
<div class="sw" style="left:1551.36px;top:1044.9px;width:18.6px;height:18.6px;background:#8fb6cb;"></div>
<div class="sw" style="left:1573.08px;top:1044.9px;width:18.6px;height:18.6px;background:#8ab2c7;"></div>
<div class="sw" style="left:1594.8px;top:1044.9px;width:18.6px;height:18.6px;background:#80abc2;"></div>
<div class="sw" style="left:1616.52px;top:1044.9px;width:18.6px;height:18.6px;background:#4f88a8;"></div>
<div class="sw" style="left:1638.24px;top:1044.9px;width:18.6px;height:18.6px;background:#4a84a5;"></div>
<div class="sw" style="left:1659.96px;top:1044.9px;width:18.6px;height:18.6px;background:#42809f;"></div>
<div class="sw" style="left:1681.68px;top:1044.9px;width:18.6px;height:18.6px;background:#2a6d92;"></div>
<div class="sw" style="left:1703.4px;top:1044.9px;width:18.6px;height:18.6px;background:#0f5a80;"></div>
<div style="left:1485px;top:1084.5px;width:928.5px;height:1.35px;background:#cfd3d7;"></div>
<div style="left:1485px;top:1109.7px;width:928.5px;height:1.35px;background:#dfe2e5;"></div>
<span class="t" style="left:1489.5px;top:1094.04px;font-size:8.85px;line-height:11.52px;color:#454d56;font-weight:700;letter-spacing:1.08px;">DESTINATION COUNTRY</span>
<span class="t" style="left:1746.6px;top:1094.04px;font-size:8.85px;line-height:11.52px;color:#2a6a99;font-weight:700;letter-spacing:0.69px;">BYTES</span>
<span class="t" style="left:1881.6px;top:1094.04px;font-size:8.85px;line-height:11.52px;color:#2a6a99;font-weight:700;letter-spacing:0.48px;">SESSIONS</span>
<span class="t" style="left:2028.3px;top:1094.04px;font-size:8.85px;line-height:11.52px;color:#2a6a99;font-weight:700;letter-spacing:0.81px;">THREATS</span>
<div style="left:1490.1px;top:1116.3px;width:13.2px;height:9px;background:repeating-linear-gradient(180deg,#d63845 0,#d63845 1.86px,#f3d9dc 1.86px,#f3d9dc 2.58px);"><div style="left:0;top:0;width:6.3px;height:5.1px;background:#3a4ca6;"></div></div>
<span class="t" style="left:1506.3px;top:1114.08px;font-size:11.01px;line-height:14.31px;color:#1273c6;">United States</span>
<span class="t" style="left:1699.08px;top:1115.07px;font-size:10.65px;line-height:13.86px;color:#2b3036;">859.9G</span>
<div class="bar" style="left:1735.8px;top:1116.3px;width:6px;height:9px;"></div>
<span class="t" style="left:1843.59px;top:1115.07px;font-size:10.65px;line-height:13.86px;color:#2b3036;">94.0M</span>
<div class="bar" style="left:1875.6px;top:1116.3px;width:97.5px;height:9px;"></div>
<span class="t" style="left:1985.22px;top:1115.07px;font-size:10.65px;line-height:13.86px;color:#2b3036;">359.1k</span>
<div class="bar" style="left:2021.7px;top:1116.3px;width:39px;height:9px;"></div>
<span class="t" style="left:2136.6px;top:1115.07px;font-size:10.65px;line-height:13.86px;color:#2b3036;">361.4k</span>
<span class="t" style="left:1506.3px;top:1134.18px;font-size:11.01px;line-height:14.31px;color:#1273c6;">10.0.0.0-10.255.255.255</span>
<span class="t" style="left:1699.08px;top:1135.17px;font-size:10.65px;line-height:13.86px;color:#2b3036;">293.5G</span>
<div class="bar" style="left:1735.8px;top:1136.4px;width:1.8px;height:9px;"></div>
<span class="t" style="left:1843.59px;top:1135.17px;font-size:10.65px;line-height:13.86px;color:#2b3036;">28.9M</span>
<div class="bar" style="left:1875.6px;top:1136.4px;width:29.7px;height:9px;"></div>
<span class="t" style="left:1985.22px;top:1135.17px;font-size:10.65px;line-height:13.86px;color:#2b3036;">910.4k</span>
<div class="bar" style="left:2021.7px;top:1136.4px;width:98.4px;height:9px;"></div>
<span class="t" style="left:2136.6px;top:1135.17px;font-size:10.65px;line-height:13.86px;color:#2b3036;">454.5k</span>
<div style="left:1490.1px;top:1156.8px;width:13.2px;height:9px;background:linear-gradient(180deg,#222 0,#222 33%,#dd1f26 33%,#dd1f26 66%,#f6c800 66%);"></div>
<span class="t" style="left:1506.3px;top:1154.58px;font-size:11.01px;line-height:14.31px;color:#1273c6;">Germany</span>
<span class="t" style="left:1704.99px;top:1155.57px;font-size:10.65px;line-height:13.86px;color:#2b3036;">45.5G</span>
<div class="bar" style="left:1735.8px;top:1156.8px;width:1.2px;height:9px;"></div>
<span class="t" style="left:1844.4px;top:1155.57px;font-size:10.65px;line-height:13.86px;color:#2b3036;">11.8M</span>
<div class="bar" style="left:1875.6px;top:1156.8px;width:15.3px;height:9px;"></div>
<span class="t" style="left:1997.07px;top:1155.57px;font-size:10.65px;line-height:13.86px;color:#2b3036;">5.5k</span>
<div class="bar" style="left:2021.7px;top:1156.8px;width:1.2px;height:9px;"></div>
<span class="t" style="left:2136.6px;top:1155.57px;font-size:10.65px;line-height:13.86px;color:#2b3036;">36.2k</span>
<div style="left:1490.1px;top:1177.2px;width:13.2px;height:9px;background:#de2a21;"><div style="left:1.5px;top:1.2px;width:3.3px;height:3.3px;background:#f8de2c;border-radius:50%;"></div></div>
<span class="t" style="left:1506.3px;top:1174.98px;font-size:11.01px;line-height:14.31px;color:#1273c6;">China</span>
<span class="t" style="left:1704.99px;top:1175.97px;font-size:10.65px;line-height:13.86px;color:#2b3036;">28.9G</span>
<div class="bar" style="left:1735.8px;top:1177.2px;width:1.2px;height:9px;"></div>
<span class="t" style="left:1849.53px;top:1175.97px;font-size:10.65px;line-height:13.86px;color:#2b3036;">5.7M</span>
<div class="bar" style="left:1875.6px;top:1177.2px;width:4.8px;height:9px;"></div>
<span class="t" style="left:1991.16px;top:1175.97px;font-size:10.65px;line-height:13.86px;color:#2b3036;">43.4k</span>
<div class="bar" style="left:2021.7px;top:1177.2px;width:2.4px;height:9px;"></div>
<span class="t" style="left:2136.6px;top:1175.97px;font-size:10.65px;line-height:13.86px;color:#2b3036;">27.7k</span>
<div style="left:1490.1px;top:1197px;width:13.2px;height:9px;background:#fff;"><div style="left:4.2px;top:1.8px;width:5.1px;height:5.1px;border-radius:50%;background:linear-gradient(180deg,#d3343f 50%,#2a4da0 50%);"></div><div style="left:0.9px;top:0.9px;width:2.4px;height:1.5px;background:#333;"></div><div style="left:9.9px;top:6.6px;width:2.4px;height:1.5px;background:#333;"></div></div>
<span class="t" style="left:1506.3px;top:1194.78px;font-size:11.01px;line-height:14.31px;color:#1273c6;">Korea Republic Of</span>
<span class="t" style="left:1704.99px;top:1195.77px;font-size:10.65px;line-height:13.86px;color:#2b3036;">23.6G</span>
<div class="bar" style="left:1735.8px;top:1197px;width:1.2px;height:9px;"></div>
<span class="t" style="left:1849.53px;top:1195.77px;font-size:10.65px;line-height:13.86px;color:#2b3036;">3.4M</span>
<div class="bar" style="left:1875.6px;top:1197px;width:2.7px;height:9px;"></div>
<span class="t" style="left:1997.07px;top:1195.77px;font-size:10.65px;line-height:13.86px;color:#2b3036;">5.5k</span>
<div class="bar" style="left:2021.7px;top:1197px;width:1.2px;height:9px;"></div>
<span class="t" style="left:2136.6px;top:1195.77px;font-size:10.65px;line-height:13.86px;color:#2b3036;">16.1k</span>
<div style="left:1485px;top:1130.25px;width:928.5px;height:1.2px;background:#eceef0;"></div>
<div style="left:1485px;top:1150.5px;width:928.5px;height:1.2px;background:#eceef0;"></div>
<div style="left:1485px;top:1170.9px;width:928.5px;height:1.2px;background:#eceef0;"></div>
<div style="left:1485px;top:1191px;width:928.5px;height:1.2px;background:#eceef0;"></div>
<div style="left:1485px;top:1211.4px;width:928.5px;height:1.2px;background:#eceef0;"></div>

</div></div>
</div></body></html>
